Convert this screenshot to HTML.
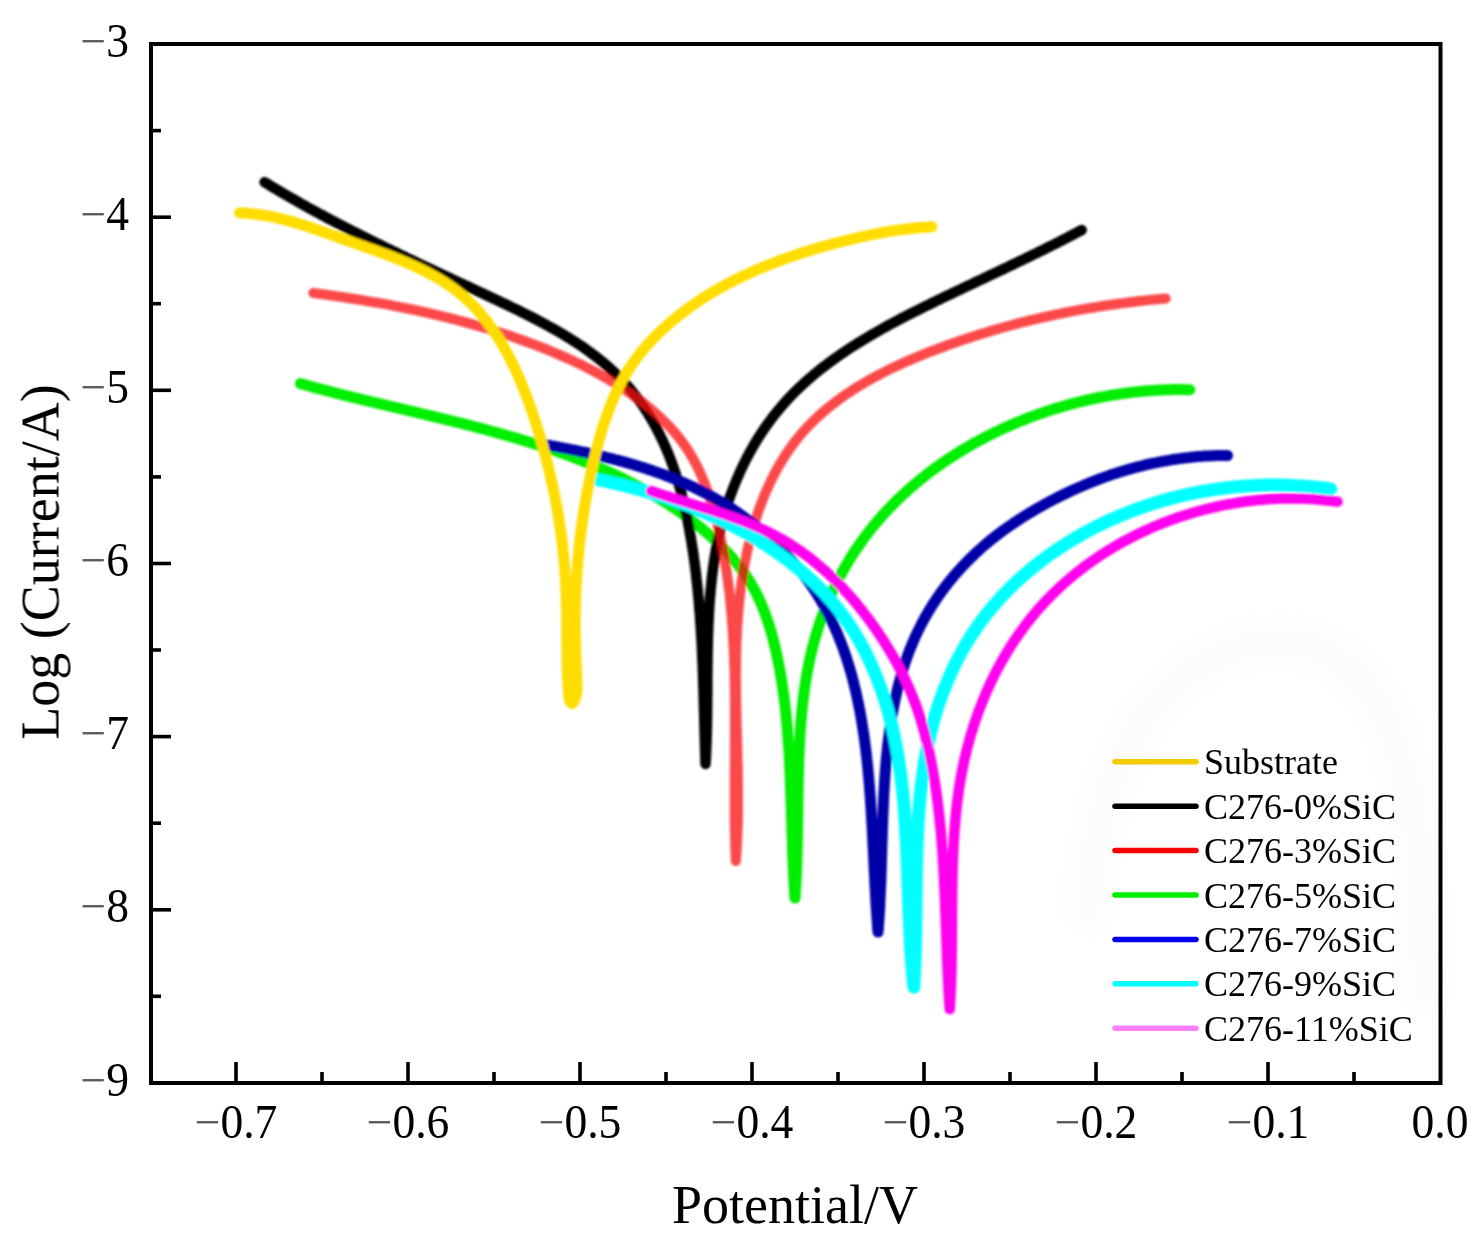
<!DOCTYPE html>
<html><head><meta charset="utf-8"><style>
html,body{margin:0;padding:0;background:#fff;}
svg{display:block;}
text{font-family:"Liberation Serif",serif;fill:#000;}
</style></head><body>
<svg width="1480" height="1249" viewBox="0 0 1480 1249">
<defs><filter id="bl" x="-5%" y="-5%" width="110%" height="110%"><feGaussianBlur stdDeviation="0.8"/></filter><filter id="bg" x="-20%" y="-20%" width="140%" height="140%"><feGaussianBlur stdDeviation="12"/></filter><filter id="bt" x="-5%" y="-5%" width="110%" height="110%"><feGaussianBlur stdDeviation="0.5"/></filter></defs>
<rect width="1480" height="1249" fill="#fff"/>
<path d="M1088,930 C1092,720 1190,640 1285,642 C1395,648 1428,800 1424,1010" fill="none" stroke="#fcfcfc" stroke-width="40" filter="url(#bg)"/>
<g fill="none" stroke-linecap="round" stroke-linejoin="round" filter="url(#bl)">
<path d="M300.4,383.6 L303.0,384.3 L305.6,385.0 L308.2,385.8 L310.8,386.5 L313.4,387.2 L316.0,387.9 L318.6,388.6 L321.2,389.3 L323.8,390.0 L326.4,390.7 L329.1,391.3 L331.7,392.0 L334.3,392.7 L337.0,393.4 L339.6,394.0 L342.3,394.7 L344.9,395.4 L347.6,396.0 L350.2,396.7 L352.9,397.3 L355.6,398.0 L358.2,398.6 L360.9,399.3 L363.6,399.9 L366.3,400.6 L368.9,401.2 L371.6,401.9 L374.3,402.5 L377.0,403.1 L379.7,403.8 L382.4,404.4 L385.1,405.0 L387.8,405.7 L390.5,406.3 L393.2,407.0 L395.9,407.6 L398.6,408.2 L401.3,408.9 L404.0,409.5 L406.7,410.1 L409.4,410.8 L412.1,411.4 L414.8,412.0 L417.5,412.7 L420.2,413.3 L422.9,414.0 L425.6,414.6 L428.4,415.3 L431.1,415.9 L433.8,416.6 L436.5,417.2 L439.2,417.9 L441.9,418.5 L444.6,419.2 L447.3,419.9 L450.1,420.5 L452.8,421.2 L455.5,421.9 L458.2,422.5 L460.9,423.2 L463.6,423.9 L466.3,424.6 L469.0,425.3 L471.7,426.0 L474.4,426.7 L477.1,427.4 L479.8,428.1 L482.5,428.8 L485.2,429.5 L487.9,430.2 L490.6,431.0 L493.3,431.7 L496.0,432.4 L498.7,433.2 L501.4,433.9 L504.1,434.7 L506.7,435.5 L509.4,436.2 L512.1,437.0 L514.8,437.8 L517.4,438.6 L520.1,439.4 L522.8,440.2 L525.4,441.0 L528.1,441.8 L530.7,442.6 L533.4,443.5 L536.0,444.3 L538.7,445.2 L541.3,446.0 L543.9,446.9 L546.6,447.8 L549.2,448.6 L551.8,449.5 L554.4,450.4 L557.1,451.3 L559.7,452.3 L562.3,453.2 L564.9,454.1 L567.5,455.1 L570.0,456.0 L572.6,457.0 L575.2,458.0 L577.8,459.0 L580.3,460.0 L582.9,461.0 L585.5,462.0 L588.0,463.0 L590.5,464.1 L593.1,465.1 L595.6,466.2 L598.1,467.3 L600.7,468.4 L603.2,469.5 L605.7,470.6 L608.2,471.7 L610.7,472.8 L613.2,474.0 L615.6,475.1 L618.1,476.3 L620.6,477.5 L623.0,478.7 L625.5,479.9 L627.9,481.1 L630.4,482.4 L632.8,483.6 L635.2,484.9 L637.6,486.2 L640.0,487.5 L642.4,488.8 L644.8,490.1 L647.2,491.4 L649.6,492.8 L651.9,494.2 L654.3,495.5 L656.6,496.9 L659.0,498.4 L661.3,499.8 L663.6,501.2 L665.9,502.7 L668.2,504.2 L670.5,505.7 L672.8,507.2 L675.1,508.7 L677.3,510.2 L679.6,511.8 L681.8,513.4 L684.0,515.0 L686.3,516.6 L688.5,518.2 L690.7,519.8 L692.9,521.5 L695.1,523.2 L697.2,524.9 L699.4,526.6 L701.5,528.3 L703.6,530.1 L705.7,531.9 L707.8,533.6 L709.9,535.5 L712.0,537.3 L714.0,539.1 L716.0,541.0 L718.0,542.9 L720.0,544.8 L721.9,546.7 L723.8,548.7 L725.7,550.7 L727.6,552.7 L729.4,554.7 L731.3,556.7 L733.0,558.8 L734.8,560.9 L736.5,563.0 L738.2,565.1 L739.9,567.2 L741.5,569.4 L743.1,571.6 L744.7,573.8 L746.2,576.1 L747.7,578.3 L749.2,580.6 L750.6,583.0 L752.0,585.3 L753.3,587.7 L754.6,590.0 L755.9,592.5 L757.1,594.9 L758.3,597.3 L759.4,599.8 L760.5,602.3 L761.6,604.8 L762.7,607.4 L763.7,609.9 L764.7,612.5 L765.6,615.1 L766.6,617.7 L767.5,620.3 L768.3,622.9 L769.2,625.5 L770.0,628.2 L770.8,630.8 L771.6,633.5 L772.3,636.2 L773.0,638.9 L773.7,641.6 L774.4,644.3 L775.0,647.0 L775.7,649.7 L776.3,652.4 L776.9,655.2 L777.4,657.9 L778.0,660.6 L778.5,663.4 L779.1,666.1 L779.6,668.9 L780.1,671.6 L780.5,674.3 L781.0,677.1 L781.5,679.8 L781.9,682.6 L782.3,685.3 L782.7,688.1 L783.1,690.8 L783.5,693.6 L783.9,696.3 L784.2,699.1 L784.6,701.8 L784.9,704.6 L785.2,707.4 L785.5,710.1 L785.8,712.9 L786.1,715.6 L786.4,718.4 L786.6,721.2 L786.9,723.9 L787.1,726.7 L787.4,729.4 L787.6,732.2 L787.8,735.0 L788.0,737.7 L788.2,740.5 L788.4,743.3 L788.6,746.0 L788.8,748.8 L789.0,751.6 L789.1,754.3 L789.3,757.1 L789.4,759.9 L789.6,762.7 L789.7,765.4 L789.8,768.2 L790.0,771.0 L790.1,773.7 L790.2,776.5 L790.3,779.3 L790.4,782.0 L790.5,784.8 L790.6,787.6 L790.7,790.4 L790.8,793.1 L790.9,795.9 L791.0,798.7 L791.1,801.4 L791.2,804.2 L791.3,807.0 L791.4,809.7 L791.4,812.5 L791.5,815.3 L791.6,818.0 L791.7,820.8 L791.8,823.6 L791.9,826.3 L791.9,829.1 L792.0,831.9 L792.1,834.6 L792.2,837.4 L792.3,840.2 L792.4,842.9 L792.5,845.7 L792.5,848.5 L792.6,851.2 L792.7,854.0 L792.8,856.7 L793.0,859.5 L793.1,862.3 L793.2,865.0 L793.3,867.8 L793.4,870.5 L793.6,873.3 L793.7,876.0 L793.8,878.8 L794.0,881.5 L794.1,884.3 L794.3,887.0 L794.5,889.8 L794.6,892.5 L794.8,895.3 L795.0,898.0 L795.2,895.6 L795.3,893.1 L795.5,890.7 L795.7,888.2 L795.8,885.8 L795.9,883.3 L796.1,880.8 L796.2,878.4 L796.3,875.9 L796.4,873.4 L796.5,871.0 L796.6,868.5 L796.7,866.0 L796.8,863.5 L796.9,861.0 L796.9,858.5 L797.0,856.0 L797.1,853.5 L797.1,851.0 L797.2,848.5 L797.3,846.0 L797.3,843.5 L797.4,841.0 L797.4,838.5 L797.4,836.0 L797.5,833.5 L797.5,831.0 L797.6,828.4 L797.6,825.9 L797.6,823.4 L797.7,820.9 L797.7,818.4 L797.7,815.8 L797.8,813.3 L797.8,810.8 L797.8,808.2 L797.9,805.7 L797.9,803.2 L797.9,800.7 L798.0,798.1 L798.0,795.6 L798.0,793.1 L798.1,790.5 L798.1,788.0 L798.2,785.5 L798.2,782.9 L798.3,780.4 L798.3,777.9 L798.4,775.3 L798.4,772.8 L798.5,770.3 L798.6,767.7 L798.7,765.2 L798.7,762.7 L798.8,760.2 L798.9,757.6 L799.0,755.1 L799.1,752.6 L799.2,750.1 L799.3,747.5 L799.5,745.0 L799.6,742.5 L799.7,740.0 L799.9,737.5 L800.0,734.9 L800.2,732.4 L800.3,729.9 L800.5,727.4 L800.7,724.9 L800.9,722.4 L801.1,719.9 L801.3,717.4 L801.5,714.9 L801.8,712.4 L802.0,709.9 L802.3,707.4 L802.5,704.9 L802.8,702.5 L803.1,700.0 L803.4,697.5 L803.7,695.0 L804.0,692.6 L804.4,690.1 L804.7,687.6 L805.1,685.2 L805.5,682.7 L805.8,680.3 L806.2,677.8 L806.7,675.4 L807.1,673.0 L807.5,670.5 L808.0,668.1 L808.5,665.7 L808.9,663.3 L809.5,660.8 L810.0,658.4 L810.5,656.0 L811.1,653.6 L811.6,651.2 L812.2,648.8 L812.8,646.4 L813.4,644.1 L814.1,641.7 L814.7,639.3 L815.4,637.0 L816.1,634.6 L816.8,632.3 L817.5,629.9 L818.3,627.6 L819.0,625.2 L819.8,622.9 L820.6,620.6 L821.4,618.3 L822.3,616.0 L823.1,613.7 L824.0,611.4 L824.9,609.1 L825.8,606.8 L826.7,604.5 L827.6,602.3 L828.6,600.0 L829.6,597.8 L830.6,595.5 L831.6,593.3 L832.6,591.1 L833.6,588.9 L834.7,586.7 L835.8,584.5 L836.9,582.3 L838.0,580.1 L839.1,577.9 L840.3,575.8 L841.4,573.6 L842.6,571.5 L843.8,569.3 L845.0,567.2 L846.2,565.1 L847.5,563.0 L848.7,560.9 L850.0,558.8 L851.3,556.7 L852.6,554.6 L854.0,552.6 L855.3,550.5 L856.7,548.5 L858.1,546.5 L859.5,544.5 L860.9,542.5 L862.3,540.5 L863.7,538.5 L865.2,536.5 L866.7,534.6 L868.2,532.6 L869.7,530.7 L871.2,528.8 L872.8,526.8 L874.3,524.9 L875.9,523.1 L877.5,521.2 L879.1,519.3 L880.7,517.5 L882.3,515.6 L884.0,513.8 L885.7,512.0 L887.3,510.2 L889.0,508.4 L890.8,506.6 L892.5,504.9 L894.2,503.1 L896.0,501.4 L897.7,499.6 L899.5,497.9 L901.3,496.2 L903.1,494.5 L905.0,492.9 L906.8,491.2 L908.6,489.5 L910.5,487.9 L912.4,486.3 L914.3,484.7 L916.2,483.0 L918.1,481.5 L920.0,479.9 L921.9,478.3 L923.9,476.8 L925.9,475.2 L927.8,473.7 L929.8,472.2 L931.8,470.7 L933.8,469.2 L935.8,467.7 L937.9,466.3 L939.9,464.8 L942.0,463.4 L944.0,461.9 L946.1,460.5 L948.2,459.1 L950.3,457.8 L952.4,456.4 L954.5,455.0 L956.6,453.7 L958.8,452.3 L960.9,451.0 L963.0,449.7 L965.2,448.4 L967.4,447.2 L969.6,445.9 L971.8,444.6 L973.9,443.4 L976.2,442.2 L978.4,441.0 L980.6,439.8 L982.8,438.6 L985.1,437.4 L987.3,436.2 L989.6,435.1 L991.8,434.0 L994.1,432.8 L996.4,431.7 L998.7,430.7 L1000.9,429.6 L1003.2,428.5 L1005.5,427.5 L1007.9,426.4 L1010.2,425.4 L1012.5,424.4 L1014.8,423.4 L1017.2,422.4 L1019.5,421.5 L1021.9,420.5 L1024.2,419.6 L1026.6,418.6 L1028.9,417.7 L1031.3,416.8 L1033.7,415.9 L1036.1,415.1 L1038.4,414.2 L1040.8,413.4 L1043.2,412.6 L1045.6,411.7 L1048.0,410.9 L1050.4,410.2 L1052.8,409.4 L1055.3,408.6 L1057.7,407.9 L1060.1,407.2 L1062.5,406.5 L1065.0,405.8 L1067.4,405.1 L1069.8,404.4 L1072.3,403.7 L1074.7,403.1 L1077.1,402.5 L1079.6,401.9 L1082.0,401.3 L1084.5,400.7 L1086.9,400.1 L1089.4,399.6 L1091.8,399.0 L1094.3,398.5 L1096.7,398.0 L1099.2,397.5 L1101.7,397.0 L1104.1,396.6 L1106.6,396.1 L1109.0,395.7 L1111.5,395.2 L1114.0,394.8 L1116.4,394.5 L1118.9,394.1 L1121.4,393.7 L1123.8,393.4 L1126.3,393.0 L1128.8,392.7 L1131.2,392.4 L1133.7,392.1 L1136.1,391.9 L1138.6,391.6 L1141.1,391.4 L1143.5,391.1 L1146.0,390.9 L1148.4,390.7 L1150.9,390.6 L1153.3,390.4 L1155.8,390.3 L1158.2,390.1 L1160.7,390.0 L1163.1,389.9 L1165.6,389.8 L1168.0,389.7 L1170.4,389.7 L1172.9,389.6 L1175.3,389.6 L1177.7,389.6 L1180.1,389.6 L1182.5,389.6 L1185.0,389.7 L1187.4,389.7 L1189.8,389.8" stroke="#00EE00" stroke-width="11"/>
<path d="M264.6,182.2 L266.9,183.6 L269.3,185.1 L271.7,186.5 L274.0,187.9 L276.4,189.3 L278.7,190.7 L281.1,192.1 L283.4,193.5 L285.8,194.8 L288.2,196.2 L290.5,197.6 L292.9,198.9 L295.3,200.3 L297.6,201.6 L300.0,203.0 L302.4,204.3 L304.7,205.6 L307.1,207.0 L309.5,208.3 L311.9,209.6 L314.2,210.9 L316.6,212.2 L319.0,213.5 L321.4,214.8 L323.8,216.0 L326.2,217.3 L328.5,218.6 L330.9,219.9 L333.3,221.1 L335.7,222.4 L338.1,223.6 L340.5,224.9 L342.9,226.1 L345.3,227.4 L347.7,228.6 L350.1,229.8 L352.5,231.1 L354.9,232.3 L357.3,233.5 L359.7,234.7 L362.1,235.9 L364.5,237.1 L366.9,238.3 L369.3,239.6 L371.8,240.8 L374.2,241.9 L376.6,243.1 L379.0,244.3 L381.4,245.5 L383.9,246.7 L386.3,247.9 L388.7,249.1 L391.1,250.2 L393.5,251.4 L396.0,252.6 L398.4,253.8 L400.8,254.9 L403.3,256.1 L405.7,257.3 L408.1,258.4 L410.6,259.6 L413.0,260.8 L415.5,261.9 L417.9,263.1 L420.3,264.2 L422.8,265.4 L425.2,266.5 L427.7,267.7 L430.1,268.8 L432.6,270.0 L435.0,271.2 L437.5,272.3 L439.9,273.5 L442.4,274.6 L444.8,275.8 L447.3,276.9 L449.8,278.1 L452.2,279.2 L454.7,280.4 L457.1,281.5 L459.6,282.7 L462.1,283.8 L464.5,285.0 L467.0,286.1 L469.5,287.3 L472.0,288.5 L474.4,289.6 L476.9,290.8 L479.4,291.9 L481.9,293.1 L484.3,294.3 L486.8,295.4 L489.3,296.6 L491.8,297.8 L494.3,298.9 L496.8,300.1 L499.2,301.3 L501.7,302.5 L504.2,303.6 L506.7,304.8 L509.2,306.0 L511.7,307.2 L514.1,308.4 L516.6,309.6 L519.1,310.8 L521.5,312.0 L524.0,313.3 L526.5,314.5 L528.9,315.7 L531.4,317.0 L533.8,318.2 L536.3,319.5 L538.7,320.8 L541.1,322.1 L543.5,323.4 L545.9,324.7 L548.3,326.0 L550.7,327.3 L553.1,328.6 L555.5,330.0 L557.8,331.3 L560.2,332.7 L562.5,334.1 L564.9,335.5 L567.2,336.9 L569.5,338.3 L571.8,339.8 L574.0,341.2 L576.3,342.7 L578.5,344.2 L580.8,345.7 L583.0,347.2 L585.2,348.7 L587.4,350.3 L589.6,351.9 L591.7,353.5 L593.8,355.1 L596.0,356.7 L598.1,358.3 L600.2,360.0 L602.2,361.7 L604.3,363.4 L606.3,365.1 L608.3,366.8 L610.3,368.6 L612.2,370.4 L614.2,372.2 L616.1,374.0 L618.0,375.9 L619.9,377.8 L621.7,379.7 L623.5,381.6 L625.3,383.5 L627.1,385.5 L628.9,387.5 L630.6,389.5 L632.3,391.6 L633.9,393.7 L635.6,395.8 L637.2,397.9 L638.8,400.0 L640.4,402.2 L641.9,404.4 L643.4,406.6 L644.9,408.9 L646.4,411.1 L647.9,413.4 L649.3,415.7 L650.7,418.0 L652.0,420.3 L653.4,422.7 L654.7,425.1 L656.0,427.5 L657.3,429.9 L658.5,432.3 L659.7,434.7 L660.9,437.2 L662.1,439.6 L663.3,442.1 L664.4,444.6 L665.5,447.1 L666.6,449.6 L667.6,452.2 L668.7,454.7 L669.7,457.3 L670.7,459.8 L671.6,462.4 L672.6,465.0 L673.5,467.6 L674.4,470.2 L675.3,472.8 L676.1,475.4 L676.9,478.0 L677.7,480.6 L678.5,483.3 L679.3,485.9 L680.0,488.5 L680.8,491.2 L681.5,493.8 L682.2,496.5 L682.8,499.2 L683.5,501.8 L684.1,504.5 L684.7,507.2 L685.3,509.8 L685.9,512.5 L686.5,515.2 L687.0,517.9 L687.6,520.6 L688.1,523.2 L688.6,525.9 L689.1,528.6 L689.6,531.3 L690.1,534.0 L690.6,536.7 L691.0,539.4 L691.5,542.1 L691.9,544.8 L692.3,547.5 L692.8,550.1 L693.2,552.8 L693.6,555.5 L693.9,558.2 L694.3,560.9 L694.7,563.6 L695.0,566.3 L695.4,569.0 L695.7,571.7 L696.0,574.4 L696.3,577.1 L696.6,579.8 L696.9,582.5 L697.2,585.2 L697.5,587.9 L697.8,590.6 L698.0,593.3 L698.3,596.0 L698.5,598.7 L698.8,601.4 L699.0,604.1 L699.2,606.8 L699.4,609.5 L699.7,612.2 L699.9,614.9 L700.1,617.6 L700.2,620.3 L700.4,623.0 L700.6,625.7 L700.8,628.4 L700.9,631.1 L701.1,633.8 L701.3,636.5 L701.4,639.2 L701.6,641.9 L701.7,644.6 L701.8,647.4 L702.0,650.1 L702.1,652.8 L702.2,655.5 L702.3,658.2 L702.4,660.9 L702.6,663.6 L702.7,666.3 L702.8,669.0 L702.9,671.7 L703.0,674.4 L703.1,677.1 L703.1,679.9 L703.2,682.6 L703.3,685.3 L703.4,688.0 L703.5,690.7 L703.6,693.4 L703.6,696.1 L703.7,698.8 L703.8,701.5 L703.9,704.3 L703.9,707.0 L704.0,709.7 L704.1,712.4 L704.2,715.1 L704.2,717.8 L704.3,720.5 L704.4,723.3 L704.4,726.0 L704.5,728.7 L704.6,731.4 L704.6,734.1 L704.7,736.8 L704.8,739.5 L704.9,742.3 L704.9,745.0 L705.0,747.7 L705.1,750.4 L705.2,753.1 L705.2,755.8 L705.3,758.6 L705.4,761.3 L705.5,764.0 L705.6,761.6 L705.8,759.2 L705.9,756.9 L706.0,754.5 L706.1,752.1 L706.2,749.7 L706.3,747.3 L706.4,744.9 L706.5,742.5 L706.6,740.1 L706.6,737.7 L706.7,735.3 L706.8,732.9 L706.8,730.5 L706.9,728.0 L706.9,725.6 L707.0,723.2 L707.0,720.8 L707.0,718.4 L707.1,715.9 L707.1,713.5 L707.1,711.1 L707.1,708.6 L707.2,706.2 L707.2,703.8 L707.2,701.3 L707.2,698.9 L707.2,696.4 L707.3,694.0 L707.3,691.6 L707.3,689.1 L707.3,686.7 L707.3,684.2 L707.3,681.8 L707.3,679.3 L707.3,676.9 L707.4,674.4 L707.4,672.0 L707.4,669.5 L707.4,667.1 L707.4,664.6 L707.5,662.2 L707.5,659.7 L707.5,657.3 L707.6,654.8 L707.6,652.3 L707.7,649.9 L707.7,647.4 L707.8,645.0 L707.8,642.5 L707.9,640.1 L707.9,637.6 L708.0,635.2 L708.1,632.7 L708.2,630.3 L708.3,627.8 L708.3,625.4 L708.5,622.9 L708.6,620.5 L708.7,618.0 L708.8,615.6 L708.9,613.1 L709.1,610.7 L709.2,608.2 L709.4,605.8 L709.5,603.4 L709.7,600.9 L709.9,598.5 L710.1,596.0 L710.3,593.6 L710.5,591.2 L710.7,588.8 L711.0,586.3 L711.2,583.9 L711.5,581.5 L711.7,579.1 L712.0,576.6 L712.3,574.2 L712.6,571.8 L712.9,569.4 L713.2,567.0 L713.6,564.6 L713.9,562.2 L714.3,559.8 L714.7,557.4 L715.1,555.0 L715.5,552.6 L715.9,550.2 L716.4,547.8 L716.8,545.5 L717.3,543.1 L717.8,540.7 L718.3,538.3 L718.8,536.0 L719.3,533.6 L719.9,531.2 L720.4,528.9 L721.0,526.5 L721.6,524.2 L722.2,521.8 L722.9,519.5 L723.5,517.2 L724.2,514.9 L724.9,512.5 L725.6,510.2 L726.3,507.9 L727.0,505.6 L727.8,503.3 L728.5,501.0 L729.3,498.7 L730.1,496.4 L730.9,494.2 L731.8,491.9 L732.6,489.7 L733.5,487.4 L734.4,485.2 L735.3,482.9 L736.2,480.7 L737.1,478.5 L738.1,476.3 L739.1,474.1 L740.0,471.9 L741.0,469.7 L742.1,467.5 L743.1,465.3 L744.1,463.2 L745.2,461.0 L746.3,458.9 L747.4,456.8 L748.5,454.7 L749.7,452.6 L750.8,450.5 L752.0,448.4 L753.2,446.3 L754.4,444.2 L755.6,442.2 L756.8,440.2 L758.1,438.1 L759.4,436.1 L760.7,434.1 L762.0,432.1 L763.3,430.1 L764.6,428.2 L766.0,426.2 L767.4,424.3 L768.8,422.4 L770.2,420.5 L771.6,418.6 L773.0,416.7 L774.5,414.8 L776.0,412.9 L777.5,411.1 L779.0,409.3 L780.5,407.5 L782.1,405.7 L783.6,403.9 L785.2,402.1 L786.8,400.4 L788.4,398.6 L790.0,396.9 L791.7,395.2 L793.3,393.5 L795.0,391.8 L796.7,390.1 L798.4,388.5 L800.1,386.9 L801.9,385.2 L803.6,383.6 L805.4,382.0 L807.2,380.4 L809.0,378.9 L810.8,377.3 L812.6,375.8 L814.4,374.2 L816.3,372.7 L818.1,371.2 L820.0,369.7 L821.9,368.2 L823.8,366.7 L825.7,365.3 L827.6,363.8 L829.6,362.4 L831.5,360.9 L833.5,359.5 L835.4,358.1 L837.4,356.7 L839.4,355.3 L841.4,353.9 L843.4,352.6 L845.4,351.2 L847.4,349.9 L849.5,348.5 L851.5,347.2 L853.6,345.9 L855.6,344.6 L857.7,343.3 L859.8,342.0 L861.9,340.7 L864.0,339.4 L866.1,338.2 L868.2,336.9 L870.3,335.6 L872.4,334.4 L874.5,333.2 L876.7,331.9 L878.8,330.7 L881.0,329.5 L883.1,328.3 L885.3,327.1 L887.4,325.9 L889.6,324.7 L891.8,323.5 L894.0,322.4 L896.1,321.2 L898.3,320.1 L900.5,318.9 L902.7,317.7 L904.9,316.6 L907.1,315.5 L909.3,314.3 L911.5,313.2 L913.7,312.1 L915.9,311.0 L918.2,309.9 L920.4,308.8 L922.6,307.6 L924.8,306.5 L927.0,305.5 L929.3,304.4 L931.5,303.3 L933.7,302.2 L935.9,301.1 L938.2,300.0 L940.4,299.0 L942.6,297.9 L944.8,296.8 L947.0,295.8 L949.3,294.7 L951.5,293.6 L953.7,292.6 L955.9,291.5 L958.1,290.5 L960.4,289.4 L962.6,288.4 L964.8,287.3 L967.0,286.3 L969.2,285.2 L971.4,284.2 L973.6,283.1 L975.8,282.1 L978.0,281.0 L980.3,280.0 L982.5,279.0 L984.7,277.9 L986.9,276.9 L989.1,275.8 L991.2,274.8 L993.4,273.8 L995.6,272.7 L997.8,271.7 L1000.0,270.6 L1002.2,269.6 L1004.4,268.6 L1006.6,267.5 L1008.8,266.5 L1010.9,265.4 L1013.1,264.4 L1015.3,263.4 L1017.5,262.3 L1019.6,261.3 L1021.8,260.2 L1024.0,259.2 L1026.1,258.1 L1028.3,257.1 L1030.5,256.0 L1032.6,255.0 L1034.8,253.9 L1036.9,252.9 L1039.1,251.8 L1041.3,250.7 L1043.4,249.7 L1045.6,248.6 L1047.7,247.5 L1049.8,246.5 L1052.0,245.4 L1054.1,244.3 L1056.3,243.2 L1058.4,242.2 L1060.5,241.1 L1062.6,240.0 L1064.8,238.9 L1066.9,237.8 L1069.0,236.7 L1071.1,235.6 L1073.2,234.5 L1075.4,233.4 L1077.5,232.2 L1079.6,231.1 L1081.7,230.0" stroke="#000000" stroke-width="10.5"/>
<path d="M313.3,293.0 L316.1,293.4 L318.9,293.8 L321.7,294.1 L324.5,294.5 L327.3,294.9 L330.1,295.3 L332.9,295.7 L335.7,296.1 L338.4,296.5 L341.2,296.9 L344.0,297.3 L346.8,297.8 L349.6,298.2 L352.3,298.6 L355.1,299.0 L357.9,299.5 L360.6,299.9 L363.4,300.4 L366.1,300.8 L368.9,301.3 L371.7,301.8 L374.4,302.3 L377.2,302.7 L379.9,303.2 L382.6,303.7 L385.4,304.2 L388.1,304.7 L390.9,305.2 L393.6,305.8 L396.3,306.3 L399.1,306.8 L401.8,307.4 L404.5,307.9 L407.2,308.5 L410.0,309.0 L412.7,309.6 L415.4,310.2 L418.1,310.7 L420.8,311.3 L423.5,311.9 L426.2,312.5 L428.9,313.2 L431.6,313.8 L434.3,314.4 L437.0,315.0 L439.7,315.7 L442.4,316.3 L445.1,317.0 L447.8,317.7 L450.5,318.4 L453.2,319.0 L455.9,319.7 L458.6,320.5 L461.2,321.2 L463.9,321.9 L466.6,322.6 L469.3,323.4 L471.9,324.1 L474.6,324.9 L477.3,325.6 L480.0,326.4 L482.6,327.2 L485.3,328.0 L488.0,328.8 L490.6,329.6 L493.3,330.5 L495.9,331.3 L498.6,332.1 L501.2,333.0 L503.9,333.9 L506.5,334.7 L509.2,335.6 L511.8,336.5 L514.5,337.4 L517.1,338.4 L519.8,339.3 L522.4,340.2 L525.1,341.2 L527.7,342.2 L530.3,343.1 L533.0,344.1 L535.6,345.1 L538.2,346.1 L540.9,347.2 L543.5,348.2 L546.1,349.2 L548.7,350.3 L551.3,351.4 L553.9,352.5 L556.5,353.6 L559.1,354.7 L561.7,355.8 L564.3,356.9 L566.9,358.1 L569.5,359.3 L572.0,360.4 L574.6,361.6 L577.2,362.9 L579.7,364.1 L582.2,365.3 L584.8,366.6 L587.3,367.9 L589.8,369.1 L592.3,370.4 L594.8,371.8 L597.3,373.1 L599.7,374.5 L602.2,375.8 L604.6,377.2 L607.1,378.6 L609.5,380.1 L611.9,381.5 L614.3,383.0 L616.7,384.4 L619.1,385.9 L621.4,387.4 L623.8,389.0 L626.1,390.5 L628.4,392.1 L630.7,393.7 L633.0,395.3 L635.2,396.9 L637.5,398.6 L639.7,400.2 L641.9,401.9 L644.1,403.6 L646.3,405.4 L648.5,407.1 L650.6,408.9 L652.7,410.7 L654.8,412.5 L656.9,414.4 L658.9,416.2 L660.9,418.1 L662.9,420.0 L664.9,422.0 L666.8,423.9 L668.7,425.9 L670.6,427.9 L672.4,430.0 L674.3,432.0 L676.0,434.1 L677.8,436.2 L679.5,438.4 L681.2,440.6 L682.8,442.8 L684.4,445.0 L686.0,447.2 L687.5,449.5 L689.0,451.8 L690.4,454.2 L691.8,456.6 L693.2,459.0 L694.5,461.4 L695.8,463.8 L697.0,466.3 L698.3,468.8 L699.5,471.3 L700.6,473.8 L701.7,476.4 L702.8,478.9 L703.9,481.5 L704.9,484.1 L705.9,486.7 L706.9,489.4 L707.8,492.0 L708.7,494.7 L709.6,497.3 L710.5,500.0 L711.3,502.7 L712.2,505.4 L713.0,508.0 L713.8,510.7 L714.5,513.5 L715.3,516.2 L716.0,518.9 L716.7,521.6 L717.4,524.3 L718.0,527.0 L718.7,529.8 L719.3,532.5 L719.9,535.2 L720.5,537.9 L721.1,540.7 L721.7,543.4 L722.2,546.2 L722.8,548.9 L723.3,551.7 L723.8,554.4 L724.3,557.2 L724.7,559.9 L725.2,562.7 L725.6,565.4 L726.1,568.2 L726.5,570.9 L726.9,573.7 L727.3,576.4 L727.7,579.2 L728.0,582.0 L728.4,584.7 L728.7,587.5 L729.1,590.3 L729.4,593.0 L729.7,595.8 L730.0,598.6 L730.3,601.3 L730.6,604.1 L730.8,606.9 L731.1,609.6 L731.3,612.4 L731.6,615.2 L731.8,618.0 L732.0,620.7 L732.2,623.5 L732.4,626.3 L732.6,629.1 L732.8,631.8 L733.0,634.6 L733.1,637.4 L733.3,640.2 L733.4,643.0 L733.6,645.8 L733.7,648.5 L733.8,651.3 L733.9,654.1 L734.0,656.9 L734.1,659.7 L734.2,662.5 L734.3,665.3 L734.4,668.0 L734.5,670.8 L734.6,673.6 L734.6,676.4 L734.7,679.2 L734.7,682.0 L734.8,684.8 L734.8,687.6 L734.9,690.4 L734.9,693.2 L734.9,696.0 L734.9,698.8 L735.0,701.5 L735.0,704.3 L735.0,707.1 L735.0,709.9 L735.0,712.7 L735.0,715.5 L735.0,718.3 L735.0,721.1 L735.0,723.9 L735.0,726.7 L735.0,729.5 L735.0,732.3 L735.0,735.1 L735.0,737.9 L734.9,740.7 L734.9,743.5 L734.9,746.3 L734.9,749.1 L734.9,751.9 L734.9,754.7 L734.8,757.5 L734.8,760.3 L734.8,763.1 L734.8,765.9 L734.8,768.7 L734.7,771.5 L734.7,774.3 L734.7,777.1 L734.7,779.9 L734.7,782.7 L734.7,785.5 L734.7,788.3 L734.7,791.1 L734.7,793.9 L734.7,796.7 L734.7,799.5 L734.7,802.3 L734.7,805.1 L734.7,807.9 L734.7,810.7 L734.7,813.5 L734.7,816.3 L734.8,819.1 L734.8,821.9 L734.8,824.7 L734.9,827.5 L734.9,830.3 L735.0,833.1 L735.0,835.9 L735.1,838.7 L735.2,841.4 L735.2,844.2 L735.3,847.0 L735.4,849.8 L735.5,852.6 L735.6,855.4 L735.7,858.2 L735.8,861.0 L736.0,858.2 L736.2,855.4 L736.4,852.7 L736.6,849.9 L736.8,847.1 L736.9,844.3 L737.1,841.5 L737.2,838.7 L737.3,835.9 L737.4,833.2 L737.5,830.4 L737.6,827.6 L737.7,824.8 L737.8,822.0 L737.8,819.2 L737.9,816.4 L737.9,813.6 L738.0,810.8 L738.0,808.0 L738.0,805.2 L738.0,802.4 L738.0,799.6 L738.0,796.8 L738.0,793.9 L738.0,791.1 L738.0,788.3 L738.0,785.5 L737.9,782.7 L737.9,779.9 L737.9,777.1 L737.8,774.3 L737.8,771.5 L737.7,768.6 L737.7,765.8 L737.6,763.0 L737.5,760.2 L737.5,757.4 L737.4,754.6 L737.3,751.8 L737.3,748.9 L737.2,746.1 L737.1,743.3 L737.1,740.5 L737.0,737.7 L736.9,734.8 L736.8,732.0 L736.8,729.2 L736.7,726.4 L736.6,723.6 L736.6,720.7 L736.5,717.9 L736.4,715.1 L736.4,712.3 L736.3,709.5 L736.3,706.7 L736.2,703.8 L736.2,701.0 L736.1,698.2 L736.1,695.4 L736.0,692.6 L736.0,689.7 L736.0,686.9 L736.0,684.1 L736.0,681.3 L735.9,678.5 L735.9,675.7 L735.9,672.9 L736.0,670.0 L736.0,667.2 L736.0,664.4 L736.0,661.6 L736.1,658.8 L736.1,656.0 L736.2,653.2 L736.3,650.4 L736.3,647.6 L736.4,644.8 L736.5,642.0 L736.6,639.2 L736.8,636.4 L736.9,633.6 L737.0,630.8 L737.2,628.0 L737.3,625.2 L737.5,622.4 L737.7,619.6 L737.9,616.8 L738.1,614.0 L738.4,611.2 L738.6,608.4 L738.9,605.6 L739.1,602.8 L739.4,600.0 L739.7,597.2 L740.0,594.5 L740.4,591.7 L740.7,588.9 L741.1,586.1 L741.5,583.3 L741.9,580.6 L742.3,577.8 L742.7,575.0 L743.1,572.3 L743.6,569.5 L744.1,566.7 L744.6,564.0 L745.1,561.2 L745.7,558.5 L746.2,555.7 L746.8,552.9 L747.4,550.2 L748.0,547.4 L748.7,544.7 L749.3,542.0 L750.0,539.2 L750.7,536.5 L751.4,533.8 L752.2,531.1 L753.0,528.4 L753.8,525.7 L754.6,523.0 L755.4,520.3 L756.3,517.6 L757.1,514.9 L758.0,512.3 L759.0,509.6 L759.9,507.0 L760.9,504.4 L761.9,501.8 L762.9,499.2 L763.9,496.6 L765.0,494.0 L766.1,491.4 L767.2,488.9 L768.3,486.4 L769.5,483.8 L770.7,481.3 L771.9,478.9 L773.2,476.4 L774.4,473.9 L775.7,471.5 L777.0,469.1 L778.4,466.7 L779.8,464.3 L781.2,461.9 L782.6,459.6 L784.1,457.3 L785.5,454.9 L787.1,452.7 L788.6,450.4 L790.2,448.2 L791.8,445.9 L793.4,443.7 L795.0,441.6 L796.7,439.4 L798.4,437.3 L800.2,435.2 L801.9,433.1 L803.7,431.1 L805.6,429.1 L807.4,427.1 L809.3,425.1 L811.2,423.1 L813.2,421.2 L815.1,419.3 L817.1,417.4 L819.2,415.6 L821.2,413.7 L823.3,411.9 L825.4,410.1 L827.5,408.4 L829.6,406.6 L831.8,404.9 L834.0,403.2 L836.2,401.5 L838.4,399.9 L840.7,398.2 L842.9,396.6 L845.2,395.0 L847.5,393.4 L849.9,391.9 L852.2,390.3 L854.6,388.8 L857.0,387.3 L859.4,385.8 L861.8,384.4 L864.2,382.9 L866.7,381.5 L869.1,380.1 L871.6,378.7 L874.1,377.4 L876.6,376.0 L879.1,374.7 L881.6,373.4 L884.2,372.1 L886.7,370.8 L889.3,369.5 L891.9,368.3 L894.5,367.0 L897.1,365.8 L899.7,364.6 L902.3,363.4 L904.9,362.2 L907.5,361.1 L910.2,359.9 L912.8,358.8 L915.5,357.7 L918.1,356.6 L920.8,355.5 L923.4,354.4 L926.1,353.3 L928.8,352.3 L931.4,351.2 L934.1,350.2 L936.8,349.2 L939.5,348.2 L942.2,347.2 L944.9,346.2 L947.5,345.2 L950.2,344.3 L952.9,343.3 L955.6,342.4 L958.3,341.5 L961.0,340.5 L963.6,339.6 L966.3,338.7 L969.0,337.9 L971.7,337.0 L974.4,336.1 L977.1,335.3 L979.7,334.4 L982.4,333.6 L985.1,332.8 L987.8,331.9 L990.5,331.1 L993.2,330.3 L995.8,329.5 L998.5,328.8 L1001.2,328.0 L1003.9,327.3 L1006.6,326.5 L1009.3,325.8 L1012.0,325.0 L1014.6,324.3 L1017.3,323.6 L1020.0,322.9 L1022.7,322.2 L1025.4,321.6 L1028.1,320.9 L1030.8,320.2 L1033.5,319.6 L1036.2,318.9 L1038.9,318.3 L1041.6,317.7 L1044.3,317.1 L1047.0,316.5 L1049.7,315.9 L1052.4,315.3 L1055.1,314.7 L1057.8,314.1 L1060.5,313.6 L1063.3,313.0 L1066.0,312.5 L1068.7,311.9 L1071.4,311.4 L1074.1,310.9 L1076.9,310.4 L1079.6,309.9 L1082.3,309.4 L1085.1,308.9 L1087.8,308.4 L1090.5,308.0 L1093.3,307.5 L1096.0,307.1 L1098.8,306.6 L1101.5,306.2 L1104.3,305.8 L1107.0,305.4 L1109.8,305.0 L1112.5,304.6 L1115.3,304.2 L1118.1,303.8 L1120.8,303.4 L1123.6,303.1 L1126.4,302.7 L1129.2,302.3 L1132.0,302.0 L1134.8,301.7 L1137.5,301.3 L1140.3,301.0 L1143.1,300.7 L1145.9,300.4 L1148.8,300.1 L1151.6,299.8 L1154.4,299.5 L1157.2,299.3 L1160.0,299.0 L1162.9,298.7 L1165.7,298.5" stroke="rgba(250,10,20,0.76)" stroke-width="10"/>
<path d="M543.0,444.3 L545.1,444.7 L547.3,445.1 L549.4,445.5 L551.6,445.9 L553.7,446.2 L555.9,446.6 L558.0,447.0 L560.2,447.5 L562.4,447.9 L564.5,448.3 L566.7,448.7 L568.9,449.1 L571.0,449.6 L573.2,450.0 L575.4,450.4 L577.6,450.9 L579.7,451.3 L581.9,451.8 L584.1,452.2 L586.3,452.7 L588.5,453.2 L590.6,453.7 L592.8,454.2 L595.0,454.7 L597.2,455.2 L599.4,455.7 L601.6,456.2 L603.8,456.7 L605.9,457.3 L608.1,457.8 L610.3,458.3 L612.5,458.9 L614.7,459.5 L616.9,460.0 L619.1,460.6 L621.2,461.2 L623.4,461.8 L625.6,462.4 L627.8,463.0 L630.0,463.6 L632.1,464.3 L634.3,464.9 L636.5,465.6 L638.6,466.2 L640.8,466.9 L643.0,467.6 L645.1,468.3 L647.3,469.0 L649.4,469.7 L651.6,470.4 L653.7,471.2 L655.9,471.9 L658.0,472.7 L660.1,473.4 L662.3,474.2 L664.4,475.0 L666.5,475.8 L668.6,476.6 L670.7,477.4 L672.8,478.3 L675.0,479.1 L677.1,480.0 L679.1,480.8 L681.2,481.7 L683.3,482.6 L685.4,483.5 L687.5,484.5 L689.5,485.4 L691.6,486.4 L693.6,487.3 L695.7,488.3 L697.7,489.3 L699.8,490.3 L701.8,491.3 L703.8,492.3 L705.8,493.4 L707.8,494.5 L709.8,495.5 L711.8,496.6 L713.8,497.7 L715.8,498.9 L717.7,500.0 L719.7,501.1 L721.6,502.3 L723.6,503.5 L725.5,504.7 L727.4,505.9 L729.3,507.1 L731.3,508.3 L733.1,509.6 L735.0,510.9 L736.9,512.1 L738.8,513.4 L740.6,514.7 L742.5,516.0 L744.3,517.4 L746.1,518.7 L748.0,520.1 L749.8,521.4 L751.6,522.8 L753.3,524.2 L755.1,525.6 L756.9,527.1 L758.6,528.5 L760.4,529.9 L762.1,531.4 L763.8,532.9 L765.5,534.3 L767.2,535.8 L768.9,537.3 L770.5,538.8 L772.2,540.4 L773.8,541.9 L775.5,543.5 L777.1,545.0 L778.7,546.6 L780.3,548.2 L781.8,549.8 L783.4,551.4 L784.9,553.0 L786.5,554.6 L788.0,556.3 L789.5,557.9 L791.0,559.6 L792.5,561.3 L793.9,562.9 L795.4,564.6 L796.8,566.3 L798.2,568.0 L799.6,569.8 L801.0,571.5 L802.3,573.2 L803.7,575.0 L805.0,576.8 L806.3,578.5 L807.6,580.3 L808.9,582.1 L810.2,583.9 L811.4,585.7 L812.7,587.5 L813.9,589.3 L815.1,591.2 L816.3,593.0 L817.4,594.9 L818.6,596.7 L819.7,598.6 L820.8,600.5 L821.9,602.3 L823.0,604.2 L824.1,606.1 L825.1,608.0 L826.2,610.0 L827.2,611.9 L828.2,613.8 L829.2,615.7 L830.1,617.7 L831.1,619.6 L832.0,621.6 L833.0,623.6 L833.9,625.6 L834.8,627.5 L835.6,629.5 L836.5,631.5 L837.4,633.5 L838.2,635.5 L839.0,637.6 L839.8,639.6 L840.6,641.6 L841.4,643.6 L842.2,645.7 L842.9,647.7 L843.7,649.8 L844.4,651.9 L845.1,653.9 L845.8,656.0 L846.5,658.1 L847.2,660.2 L847.8,662.3 L848.5,664.3 L849.1,666.5 L849.7,668.6 L850.4,670.7 L851.0,672.8 L851.6,674.9 L852.1,677.0 L852.7,679.2 L853.3,681.3 L853.8,683.5 L854.3,685.6 L854.9,687.8 L855.4,689.9 L855.9,692.1 L856.4,694.2 L856.9,696.4 L857.3,698.6 L857.8,700.8 L858.3,703.0 L858.7,705.1 L859.1,707.3 L859.6,709.5 L860.0,711.7 L860.4,713.9 L860.8,716.1 L861.2,718.4 L861.6,720.6 L861.9,722.8 L862.3,725.0 L862.6,727.2 L863.0,729.5 L863.3,731.7 L863.7,733.9 L864.0,736.1 L864.3,738.4 L864.6,740.6 L864.9,742.9 L865.2,745.1 L865.5,747.4 L865.8,749.6 L866.0,751.9 L866.3,754.1 L866.6,756.4 L866.8,758.6 L867.1,760.9 L867.3,763.2 L867.5,765.4 L867.8,767.7 L868.0,770.0 L868.2,772.2 L868.4,774.5 L868.6,776.8 L868.8,779.0 L869.0,781.3 L869.2,783.6 L869.4,785.9 L869.6,788.2 L869.7,790.4 L869.9,792.7 L870.1,795.0 L870.3,797.3 L870.4,799.6 L870.6,801.8 L870.7,804.1 L870.9,806.4 L871.0,808.7 L871.2,811.0 L871.3,813.2 L871.4,815.5 L871.6,817.8 L871.7,820.1 L871.8,822.4 L872.0,824.7 L872.1,826.9 L872.2,829.2 L872.3,831.5 L872.5,833.8 L872.6,836.0 L872.7,838.3 L872.8,840.6 L872.9,842.9 L873.0,845.1 L873.1,847.4 L873.3,849.7 L873.4,852.0 L873.5,854.2 L873.6,856.5 L873.7,858.8 L873.8,861.0 L873.9,863.3 L874.0,865.5 L874.1,867.8 L874.2,870.1 L874.3,872.3 L874.5,874.6 L874.6,876.8 L874.7,879.0 L874.8,881.3 L874.9,883.5 L875.0,885.8 L875.1,888.0 L875.3,890.2 L875.4,892.5 L875.5,894.7 L875.6,896.9 L875.7,899.1 L875.9,901.4 L876.0,903.6 L876.1,905.8 L876.3,908.0 L876.4,910.2 L876.6,912.4 L876.7,914.6 L876.9,916.8 L877.0,919.0 L877.2,921.1 L877.3,923.3 L877.5,925.5 L877.6,927.7 L877.8,929.8 L878.0,932.0 L878.2,929.8 L878.4,927.6 L878.5,925.3 L878.7,923.1 L878.9,920.9 L879.0,918.7 L879.2,916.4 L879.3,914.2 L879.4,911.9 L879.6,909.7 L879.7,907.4 L879.8,905.2 L879.9,902.9 L880.0,900.7 L880.1,898.4 L880.2,896.1 L880.3,893.9 L880.4,891.6 L880.5,889.3 L880.6,887.1 L880.7,884.8 L880.8,882.5 L880.9,880.2 L881.0,877.9 L881.0,875.7 L881.1,873.4 L881.2,871.1 L881.3,868.8 L881.3,866.5 L881.4,864.2 L881.5,861.9 L881.5,859.6 L881.6,857.3 L881.7,855.0 L881.7,852.7 L881.8,850.4 L881.9,848.1 L881.9,845.8 L882.0,843.5 L882.1,841.2 L882.1,838.9 L882.2,836.6 L882.3,834.2 L882.4,831.9 L882.4,829.6 L882.5,827.3 L882.6,825.0 L882.7,822.7 L882.7,820.4 L882.8,818.1 L882.9,815.8 L883.0,813.4 L883.1,811.1 L883.2,808.8 L883.3,806.5 L883.4,804.2 L883.5,801.9 L883.6,799.6 L883.7,797.3 L883.8,795.0 L883.9,792.7 L884.1,790.4 L884.2,788.1 L884.3,785.8 L884.5,783.5 L884.6,781.2 L884.8,778.9 L884.9,776.6 L885.1,774.3 L885.3,772.0 L885.4,769.7 L885.6,767.4 L885.8,765.1 L886.0,762.8 L886.2,760.5 L886.4,758.3 L886.6,756.0 L886.9,753.7 L887.1,751.4 L887.3,749.1 L887.6,746.9 L887.8,744.6 L888.1,742.3 L888.4,740.1 L888.7,737.8 L889.0,735.6 L889.3,733.3 L889.6,731.1 L889.9,728.8 L890.2,726.6 L890.6,724.3 L890.9,722.1 L891.3,719.9 L891.7,717.6 L892.0,715.4 L892.4,713.2 L892.8,711.0 L893.2,708.8 L893.7,706.5 L894.1,704.3 L894.6,702.1 L895.0,699.9 L895.5,697.7 L896.0,695.6 L896.5,693.4 L897.0,691.2 L897.5,689.0 L898.1,686.9 L898.6,684.7 L899.2,682.5 L899.8,680.4 L900.4,678.2 L901.0,676.1 L901.6,673.9 L902.2,671.8 L902.9,669.7 L903.5,667.6 L904.2,665.4 L904.9,663.3 L905.6,661.2 L906.4,659.1 L907.1,657.0 L907.9,654.9 L908.6,652.9 L909.4,650.8 L910.2,648.7 L911.1,646.6 L911.9,644.6 L912.8,642.5 L913.6,640.5 L914.5,638.5 L915.4,636.4 L916.4,634.4 L917.3,632.4 L918.3,630.4 L919.3,628.4 L920.3,626.4 L921.3,624.4 L922.3,622.4 L923.4,620.4 L924.5,618.5 L925.5,616.5 L926.7,614.6 L927.8,612.6 L929.0,610.7 L930.1,608.8 L931.3,606.9 L932.5,604.9 L933.7,603.0 L935.0,601.2 L936.2,599.3 L937.5,597.4 L938.8,595.5 L940.1,593.7 L941.5,591.8 L942.8,590.0 L944.2,588.2 L945.5,586.4 L946.9,584.6 L948.3,582.8 L949.8,581.0 L951.2,579.2 L952.7,577.5 L954.1,575.7 L955.6,574.0 L957.1,572.3 L958.7,570.6 L960.2,568.9 L961.7,567.2 L963.3,565.5 L964.9,563.9 L966.5,562.2 L968.1,560.6 L969.7,559.0 L971.3,557.3 L973.0,555.8 L974.6,554.2 L976.3,552.6 L978.0,551.1 L979.7,549.5 L981.4,548.0 L983.1,546.5 L984.8,545.0 L986.6,543.5 L988.4,542.0 L990.1,540.6 L991.9,539.1 L993.7,537.7 L995.5,536.3 L997.3,534.9 L999.1,533.5 L1001.0,532.1 L1002.8,530.8 L1004.7,529.4 L1006.5,528.1 L1008.4,526.8 L1010.3,525.5 L1012.2,524.2 L1014.1,522.9 L1016.0,521.6 L1017.9,520.4 L1019.8,519.1 L1021.7,517.9 L1023.7,516.6 L1025.6,515.4 L1027.6,514.2 L1029.5,513.0 L1031.5,511.9 L1033.5,510.7 L1035.4,509.5 L1037.4,508.4 L1039.4,507.3 L1041.4,506.1 L1043.4,505.0 L1045.4,503.9 L1047.4,502.8 L1049.4,501.7 L1051.4,500.7 L1053.4,499.6 L1055.5,498.6 L1057.5,497.5 L1059.5,496.5 L1061.6,495.5 L1063.6,494.5 L1065.7,493.5 L1067.7,492.5 L1069.8,491.5 L1071.8,490.6 L1073.9,489.6 L1076.0,488.7 L1078.1,487.8 L1080.1,486.9 L1082.2,486.0 L1084.3,485.1 L1086.4,484.2 L1088.5,483.3 L1090.6,482.5 L1092.7,481.6 L1094.8,480.8 L1097.0,480.0 L1099.1,479.2 L1101.2,478.4 L1103.3,477.6 L1105.5,476.8 L1107.6,476.1 L1109.7,475.3 L1111.9,474.6 L1114.0,473.9 L1116.2,473.2 L1118.3,472.5 L1120.5,471.8 L1122.6,471.2 L1124.8,470.5 L1127.0,469.9 L1129.1,469.2 L1131.3,468.6 L1133.5,468.0 L1135.7,467.4 L1137.9,466.9 L1140.1,466.3 L1142.2,465.8 L1144.4,465.2 L1146.6,464.7 L1148.8,464.2 L1151.0,463.7 L1153.3,463.2 L1155.5,462.8 L1157.7,462.3 L1159.9,461.9 L1162.1,461.5 L1164.3,461.0 L1166.6,460.7 L1168.8,460.3 L1171.0,459.9 L1173.2,459.5 L1175.5,459.2 L1177.7,458.9 L1180.0,458.6 L1182.2,458.3 L1184.4,458.0 L1186.7,457.7 L1188.9,457.5 L1191.2,457.2 L1193.4,457.0 L1195.7,456.8 L1198.0,456.6 L1200.2,456.4 L1202.5,456.3 L1204.7,456.1 L1207.0,456.0 L1209.3,455.9 L1211.6,455.8 L1213.8,455.7 L1216.1,455.6 L1218.4,455.6 L1220.7,455.5 L1222.9,455.5 L1225.2,455.5 L1227.5,455.5" stroke="#0000A8" stroke-width="11"/>
<path d="M597.8,479.7 L599.9,480.1 L602.1,480.5 L604.2,481.0 L606.3,481.4 L608.5,481.9 L610.6,482.3 L612.8,482.8 L614.9,483.3 L617.1,483.8 L619.2,484.3 L621.4,484.8 L623.5,485.4 L625.7,485.9 L627.8,486.5 L630.0,487.0 L632.1,487.6 L634.3,488.1 L636.5,488.7 L638.6,489.3 L640.8,489.9 L642.9,490.5 L645.1,491.2 L647.3,491.8 L649.4,492.4 L651.6,493.1 L653.7,493.8 L655.9,494.4 L658.1,495.1 L660.2,495.8 L662.4,496.5 L664.5,497.2 L666.7,497.9 L668.8,498.7 L671.0,499.4 L673.1,500.2 L675.3,500.9 L677.4,501.7 L679.5,502.5 L681.7,503.3 L683.8,504.1 L685.9,504.9 L688.1,505.7 L690.2,506.5 L692.3,507.3 L694.4,508.2 L696.6,509.1 L698.7,509.9 L700.8,510.8 L702.9,511.7 L705.0,512.6 L707.1,513.5 L709.2,514.4 L711.2,515.4 L713.3,516.3 L715.4,517.3 L717.5,518.2 L719.5,519.2 L721.6,520.2 L723.6,521.2 L725.7,522.2 L727.7,523.2 L729.8,524.2 L731.8,525.3 L733.8,526.3 L735.8,527.4 L737.8,528.4 L739.8,529.5 L741.8,530.6 L743.8,531.7 L745.8,532.8 L747.8,533.9 L749.8,535.0 L751.7,536.2 L753.7,537.3 L755.6,538.5 L757.5,539.7 L759.5,540.9 L761.4,542.1 L763.3,543.3 L765.2,544.5 L767.1,545.7 L769.0,546.9 L770.9,548.2 L772.7,549.5 L774.6,550.7 L776.4,552.0 L778.3,553.3 L780.1,554.6 L781.9,555.9 L783.7,557.2 L785.5,558.6 L787.3,559.9 L789.1,561.3 L790.8,562.7 L792.6,564.0 L794.3,565.4 L796.1,566.8 L797.8,568.3 L799.5,569.7 L801.2,571.1 L802.9,572.6 L804.5,574.0 L806.2,575.5 L807.8,577.0 L809.5,578.5 L811.1,580.0 L812.7,581.5 L814.3,583.0 L815.9,584.6 L817.4,586.1 L819.0,587.7 L820.5,589.3 L822.1,590.8 L823.6,592.4 L825.1,594.0 L826.6,595.7 L828.0,597.3 L829.5,598.9 L830.9,600.6 L832.4,602.3 L833.8,603.9 L835.2,605.6 L836.6,607.3 L837.9,609.0 L839.3,610.8 L840.6,612.5 L842.0,614.3 L843.3,616.0 L844.5,617.8 L845.8,619.6 L847.1,621.4 L848.3,623.2 L849.5,625.0 L850.8,626.8 L851.9,628.7 L853.1,630.5 L854.3,632.4 L855.4,634.2 L856.6,636.1 L857.7,638.0 L858.8,639.9 L859.9,641.8 L860.9,643.8 L862.0,645.7 L863.0,647.6 L864.1,649.6 L865.1,651.5 L866.1,653.5 L867.0,655.5 L868.0,657.5 L869.0,659.5 L869.9,661.5 L870.8,663.5 L871.7,665.5 L872.6,667.5 L873.5,669.5 L874.4,671.6 L875.2,673.6 L876.0,675.7 L876.9,677.7 L877.7,679.8 L878.5,681.9 L879.2,684.0 L880.0,686.0 L880.8,688.1 L881.5,690.2 L882.2,692.3 L882.9,694.5 L883.6,696.6 L884.3,698.7 L885.0,700.8 L885.7,702.9 L886.3,705.1 L886.9,707.2 L887.6,709.4 L888.2,711.5 L888.8,713.7 L889.3,715.8 L889.9,718.0 L890.5,720.2 L891.0,722.3 L891.5,724.5 L892.1,726.7 L892.6,728.9 L893.1,731.0 L893.5,733.2 L894.0,735.4 L894.5,737.6 L894.9,739.8 L895.4,742.0 L895.8,744.2 L896.2,746.4 L896.6,748.6 L897.0,750.8 L897.4,753.0 L897.8,755.2 L898.2,757.5 L898.5,759.7 L898.9,761.9 L899.2,764.1 L899.5,766.4 L899.8,768.6 L900.2,770.8 L900.5,773.1 L900.8,775.3 L901.0,777.5 L901.3,779.8 L901.6,782.0 L901.8,784.3 L902.1,786.5 L902.3,788.8 L902.6,791.0 L902.8,793.3 L903.0,795.5 L903.3,797.8 L903.5,800.0 L903.7,802.3 L903.9,804.6 L904.1,806.8 L904.2,809.1 L904.4,811.3 L904.6,813.6 L904.8,815.9 L904.9,818.1 L905.1,820.4 L905.2,822.7 L905.4,825.0 L905.5,827.2 L905.7,829.5 L905.8,831.8 L905.9,834.0 L906.1,836.3 L906.2,838.6 L906.3,840.9 L906.4,843.1 L906.5,845.4 L906.6,847.7 L906.7,850.0 L906.8,852.2 L906.9,854.5 L907.0,856.8 L907.1,859.1 L907.2,861.4 L907.3,863.6 L907.4,865.9 L907.5,868.2 L907.6,870.5 L907.7,872.7 L907.7,875.0 L907.8,877.3 L907.9,879.6 L908.0,881.8 L908.1,884.1 L908.1,886.4 L908.2,888.7 L908.3,890.9 L908.4,893.2 L908.4,895.5 L908.5,897.7 L908.6,900.0 L908.7,902.3 L908.8,904.5 L908.8,906.8 L908.9,909.1 L909.0,911.3 L909.1,913.6 L909.2,915.8 L909.3,918.1 L909.4,920.3 L909.4,922.6 L909.5,924.9 L909.6,927.1 L909.7,929.4 L909.8,931.6 L909.9,933.8 L910.1,936.1 L910.2,938.3 L910.3,940.6 L910.4,942.8 L910.5,945.0 L910.7,947.3 L910.8,949.5 L910.9,951.7 L911.1,954.0 L911.2,956.2 L911.4,958.4 L911.5,960.6 L911.7,962.8 L911.8,965.0 L912.0,967.2 L912.2,969.5 L912.4,971.7 L912.5,973.9 L912.7,976.1 L912.9,978.3 L913.1,980.4 L913.4,982.6 L913.6,984.8 L913.8,987.0 L914.0,984.5 L914.1,981.9 L914.2,979.3 L914.4,976.8 L914.5,974.2 L914.6,971.7 L914.7,969.1 L914.8,966.5 L914.9,964.0 L915.0,961.4 L915.1,958.8 L915.2,956.3 L915.3,953.7 L915.3,951.1 L915.4,948.6 L915.5,946.0 L915.5,943.4 L915.6,940.8 L915.6,938.2 L915.7,935.6 L915.7,933.1 L915.8,930.5 L915.8,927.9 L915.8,925.3 L915.9,922.7 L915.9,920.1 L915.9,917.5 L915.9,914.9 L916.0,912.3 L916.0,909.8 L916.0,907.2 L916.0,904.6 L916.1,902.0 L916.1,899.4 L916.1,896.8 L916.1,894.2 L916.2,891.6 L916.2,889.0 L916.2,886.4 L916.2,883.8 L916.3,881.2 L916.3,878.6 L916.4,876.0 L916.4,873.4 L916.4,870.8 L916.5,868.2 L916.5,865.6 L916.6,863.0 L916.6,860.4 L916.7,857.8 L916.8,855.2 L916.8,852.6 L916.9,850.0 L917.0,847.5 L917.1,844.9 L917.2,842.3 L917.3,839.7 L917.4,837.1 L917.5,834.5 L917.6,831.9 L917.8,829.3 L917.9,826.7 L918.0,824.2 L918.2,821.6 L918.3,819.0 L918.5,816.4 L918.7,813.8 L918.9,811.3 L919.1,808.7 L919.3,806.1 L919.5,803.6 L919.7,801.0 L920.0,798.4 L920.2,795.9 L920.5,793.3 L920.7,790.7 L921.0,788.2 L921.3,785.6 L921.6,783.1 L921.9,780.5 L922.3,778.0 L922.6,775.4 L923.0,772.9 L923.3,770.3 L923.7,767.8 L924.1,765.3 L924.5,762.7 L924.9,760.2 L925.4,757.7 L925.8,755.1 L926.3,752.6 L926.8,750.1 L927.3,747.6 L927.8,745.1 L928.3,742.6 L928.9,740.0 L929.5,737.5 L930.0,735.0 L930.6,732.6 L931.3,730.1 L931.9,727.6 L932.6,725.1 L933.2,722.6 L933.9,720.1 L934.6,717.7 L935.3,715.2 L936.1,712.8 L936.8,710.3 L937.6,707.9 L938.4,705.4 L939.2,703.0 L940.0,700.6 L940.9,698.1 L941.8,695.7 L942.6,693.3 L943.6,690.9 L944.5,688.5 L945.4,686.1 L946.4,683.8 L947.4,681.4 L948.3,679.0 L949.4,676.7 L950.4,674.4 L951.5,672.0 L952.5,669.7 L953.6,667.4 L954.7,665.1 L955.9,662.8 L957.0,660.5 L958.2,658.2 L959.4,656.0 L960.6,653.7 L961.8,651.5 L963.1,649.3 L964.3,647.0 L965.6,644.8 L966.9,642.6 L968.3,640.5 L969.6,638.3 L971.0,636.1 L972.4,634.0 L973.8,631.9 L975.2,629.8 L976.7,627.6 L978.1,625.6 L979.6,623.5 L981.1,621.4 L982.7,619.4 L984.2,617.3 L985.8,615.3 L987.4,613.3 L989.0,611.3 L990.6,609.3 L992.2,607.3 L993.9,605.4 L995.6,603.4 L997.2,601.5 L999.0,599.6 L1000.7,597.7 L1002.4,595.8 L1004.2,594.0 L1006.0,592.1 L1007.8,590.3 L1009.6,588.5 L1011.4,586.7 L1013.3,584.9 L1015.1,583.1 L1017.0,581.3 L1018.9,579.6 L1020.8,577.9 L1022.7,576.2 L1024.6,574.5 L1026.6,572.8 L1028.6,571.1 L1030.5,569.5 L1032.5,567.8 L1034.5,566.2 L1036.6,564.6 L1038.6,563.0 L1040.6,561.4 L1042.7,559.9 L1044.8,558.3 L1046.8,556.8 L1048.9,555.3 L1051.0,553.8 L1053.1,552.3 L1055.3,550.9 L1057.4,549.4 L1059.6,548.0 L1061.7,546.6 L1063.9,545.2 L1066.1,543.8 L1068.3,542.4 L1070.5,541.1 L1072.7,539.7 L1074.9,538.4 L1077.1,537.1 L1079.3,535.8 L1081.6,534.5 L1083.8,533.3 L1086.1,532.0 L1088.4,530.8 L1090.7,529.6 L1092.9,528.4 L1095.2,527.2 L1097.5,526.1 L1099.9,524.9 L1102.2,523.8 L1104.5,522.7 L1106.8,521.6 L1109.2,520.5 L1111.5,519.4 L1113.9,518.4 L1116.3,517.4 L1118.6,516.3 L1121.0,515.3 L1123.4,514.4 L1125.8,513.4 L1128.2,512.4 L1130.6,511.5 L1133.0,510.6 L1135.4,509.7 L1137.8,508.8 L1140.3,507.9 L1142.7,507.1 L1145.1,506.2 L1147.6,505.4 L1150.0,504.6 L1152.5,503.8 L1154.9,503.0 L1157.4,502.3 L1159.9,501.5 L1162.3,500.8 L1164.8,500.1 L1167.3,499.4 L1169.8,498.7 L1172.3,498.1 L1174.8,497.4 L1177.3,496.8 L1179.8,496.2 L1182.3,495.6 L1184.8,495.0 L1187.3,494.5 L1189.8,493.9 L1192.3,493.4 L1194.8,492.9 L1197.4,492.4 L1199.9,491.9 L1202.4,491.4 L1205.0,491.0 L1207.5,490.6 L1210.0,490.1 L1212.6,489.7 L1215.1,489.4 L1217.7,489.0 L1220.2,488.6 L1222.8,488.3 L1225.3,488.0 L1227.9,487.7 L1230.5,487.4 L1233.0,487.1 L1235.6,486.9 L1238.1,486.6 L1240.7,486.4 L1243.3,486.2 L1245.8,486.0 L1248.4,485.9 L1251.0,485.7 L1253.6,485.6 L1256.1,485.4 L1258.7,485.3 L1261.3,485.2 L1263.9,485.2 L1266.4,485.1 L1269.0,485.1 L1271.6,485.0 L1274.2,485.0 L1276.7,485.0 L1279.3,485.1 L1281.9,485.1 L1284.5,485.2 L1287.0,485.2 L1289.6,485.3 L1292.2,485.4 L1294.8,485.6 L1297.3,485.7 L1299.9,485.9 L1302.5,486.0 L1305.1,486.2 L1307.6,486.4 L1310.2,486.6 L1312.8,486.9 L1315.3,487.1 L1317.9,487.4 L1320.5,487.7 L1323.0,488.0 L1325.6,488.3 L1328.1,488.6 L1330.7,489.0" stroke="#00FFFF" stroke-width="13"/>
<path d="M651.0,491.0 L653.1,491.7 L655.2,492.4 L657.3,493.2 L659.4,493.9 L661.5,494.6 L663.6,495.2 L665.7,495.9 L667.8,496.6 L669.9,497.3 L672.0,498.0 L674.2,498.6 L676.3,499.3 L678.4,500.0 L680.5,500.6 L682.7,501.3 L684.8,501.9 L686.9,502.6 L689.1,503.3 L691.2,503.9 L693.4,504.6 L695.5,505.2 L697.6,505.9 L699.8,506.6 L701.9,507.2 L704.0,507.9 L706.2,508.6 L708.3,509.2 L710.4,509.9 L712.6,510.6 L714.7,511.3 L716.8,512.0 L719.0,512.7 L721.1,513.4 L723.2,514.1 L725.3,514.8 L727.4,515.5 L729.5,516.3 L731.6,517.0 L733.7,517.7 L735.8,518.5 L737.9,519.3 L740.0,520.0 L742.1,520.8 L744.1,521.6 L746.2,522.4 L748.3,523.3 L750.3,524.1 L752.3,524.9 L754.4,525.8 L756.4,526.7 L758.4,527.6 L760.5,528.5 L762.5,529.4 L764.5,530.3 L766.5,531.2 L768.4,532.2 L770.4,533.2 L772.4,534.2 L774.3,535.2 L776.3,536.2 L778.2,537.3 L780.1,538.3 L782.0,539.4 L783.9,540.5 L785.8,541.6 L787.7,542.8 L789.6,543.9 L791.4,545.1 L793.3,546.3 L795.1,547.5 L796.9,548.7 L798.8,550.0 L800.6,551.2 L802.4,552.5 L804.1,553.8 L805.9,555.1 L807.7,556.4 L809.4,557.8 L811.2,559.1 L812.9,560.5 L814.6,561.9 L816.3,563.3 L818.0,564.7 L819.7,566.1 L821.4,567.6 L823.1,569.0 L824.7,570.5 L826.4,572.0 L828.0,573.5 L829.6,575.0 L831.2,576.5 L832.8,578.1 L834.4,579.6 L836.0,581.2 L837.6,582.7 L839.1,584.3 L840.7,585.9 L842.2,587.5 L843.7,589.2 L845.2,590.8 L846.8,592.5 L848.2,594.1 L849.7,595.8 L851.2,597.5 L852.7,599.1 L854.1,600.8 L855.6,602.5 L857.0,604.3 L858.4,606.0 L859.8,607.7 L861.2,609.5 L862.6,611.2 L864.0,613.0 L865.3,614.8 L866.7,616.5 L868.0,618.3 L869.3,620.1 L870.7,621.9 L872.0,623.7 L873.3,625.6 L874.6,627.4 L875.8,629.2 L877.1,631.1 L878.4,632.9 L879.6,634.8 L880.8,636.6 L882.1,638.5 L883.3,640.4 L884.5,642.2 L885.6,644.1 L886.8,646.0 L888.0,647.9 L889.1,649.8 L890.3,651.7 L891.4,653.6 L892.5,655.5 L893.6,657.4 L894.7,659.4 L895.8,661.3 L896.9,663.3 L897.9,665.2 L899.0,667.2 L900.0,669.1 L901.0,671.1 L902.0,673.0 L903.0,675.0 L904.0,677.0 L904.9,679.0 L905.8,681.0 L906.8,683.0 L907.7,685.0 L908.6,687.0 L909.5,689.0 L910.3,691.0 L911.2,693.1 L912.0,695.1 L912.8,697.2 L913.6,699.2 L914.4,701.3 L915.2,703.3 L916.0,705.4 L916.7,707.5 L917.4,709.5 L918.1,711.6 L918.8,713.7 L919.5,715.8 L920.2,717.9 L920.8,720.0 L921.5,722.1 L922.1,724.2 L922.7,726.4 L923.3,728.5 L923.9,730.6 L924.5,732.7 L925.0,734.9 L925.6,737.0 L926.1,739.1 L926.6,741.3 L927.2,743.4 L927.7,745.6 L928.2,747.7 L928.6,749.9 L929.1,752.0 L929.6,754.2 L930.0,756.4 L930.5,758.5 L930.9,760.7 L931.4,762.8 L931.8,765.0 L932.2,767.2 L932.6,769.4 L933.0,771.5 L933.4,773.7 L933.7,775.9 L934.1,778.1 L934.5,780.3 L934.8,782.4 L935.2,784.6 L935.5,786.8 L935.8,789.0 L936.2,791.2 L936.5,793.4 L936.8,795.6 L937.1,797.8 L937.4,800.0 L937.6,802.2 L937.9,804.4 L938.2,806.6 L938.5,808.8 L938.7,811.0 L939.0,813.2 L939.2,815.4 L939.5,817.6 L939.7,819.8 L939.9,822.0 L940.1,824.2 L940.3,826.5 L940.6,828.7 L940.8,830.9 L941.0,833.1 L941.2,835.3 L941.3,837.5 L941.5,839.8 L941.7,842.0 L941.9,844.2 L942.0,846.4 L942.2,848.7 L942.4,850.9 L942.5,853.1 L942.7,855.3 L942.8,857.6 L943.0,859.8 L943.1,862.0 L943.2,864.2 L943.4,866.5 L943.5,868.7 L943.6,870.9 L943.7,873.2 L943.9,875.4 L944.0,877.6 L944.1,879.9 L944.2,882.1 L944.3,884.3 L944.4,886.6 L944.5,888.8 L944.6,891.0 L944.7,893.3 L944.8,895.5 L944.9,897.7 L945.0,900.0 L945.1,902.2 L945.2,904.4 L945.3,906.7 L945.3,908.9 L945.4,911.2 L945.5,913.4 L945.6,915.6 L945.7,917.9 L945.8,920.1 L945.8,922.3 L945.9,924.6 L946.0,926.8 L946.1,929.0 L946.2,931.3 L946.2,933.5 L946.3,935.7 L946.4,938.0 L946.5,940.2 L946.6,942.4 L946.6,944.7 L946.7,946.9 L946.8,949.1 L946.9,951.4 L947.0,953.6 L947.0,955.8 L947.1,958.0 L947.2,960.3 L947.3,962.5 L947.4,964.7 L947.5,966.9 L947.6,969.2 L947.7,971.4 L947.8,973.6 L947.9,975.8 L948.0,978.0 L948.1,980.3 L948.2,982.5 L948.3,984.7 L948.4,986.9 L948.5,989.1 L948.6,991.3 L948.8,993.6 L948.9,995.8 L949.0,998.0 L949.1,1000.2 L949.3,1002.4 L949.4,1004.6 L949.6,1006.8 L949.7,1009.0 L949.9,1006.5 L950.0,1004.0 L950.2,1001.6 L950.3,999.1 L950.4,996.6 L950.6,994.1 L950.7,991.6 L950.8,989.1 L950.9,986.6 L951.0,984.1 L951.1,981.6 L951.1,979.1 L951.2,976.6 L951.3,974.1 L951.4,971.6 L951.4,969.1 L951.5,966.6 L951.5,964.1 L951.6,961.6 L951.6,959.1 L951.7,956.6 L951.7,954.0 L951.7,951.5 L951.8,949.0 L951.8,946.5 L951.8,944.0 L951.8,941.5 L951.9,938.9 L951.9,936.4 L951.9,933.9 L951.9,931.4 L951.9,928.9 L951.9,926.3 L952.0,923.8 L952.0,921.3 L952.0,918.8 L952.0,916.2 L952.0,913.7 L952.0,911.2 L952.0,908.7 L952.1,906.1 L952.1,903.6 L952.1,901.1 L952.1,898.6 L952.2,896.0 L952.2,893.5 L952.2,891.0 L952.3,888.5 L952.3,885.9 L952.3,883.4 L952.4,880.9 L952.4,878.4 L952.5,875.8 L952.5,873.3 L952.6,870.8 L952.7,868.3 L952.7,865.7 L952.8,863.2 L952.9,860.7 L953.0,858.2 L953.1,855.7 L953.2,853.1 L953.3,850.6 L953.4,848.1 L953.6,845.6 L953.7,843.1 L953.8,840.6 L954.0,838.1 L954.2,835.5 L954.3,833.0 L954.5,830.5 L954.7,828.0 L954.9,825.5 L955.1,823.0 L955.3,820.5 L955.5,818.0 L955.8,815.5 L956.0,813.0 L956.3,810.5 L956.5,808.0 L956.8,805.5 L957.1,803.0 L957.4,800.6 L957.7,798.1 L958.1,795.6 L958.4,793.1 L958.8,790.6 L959.1,788.2 L959.5,785.7 L959.9,783.2 L960.3,780.7 L960.7,778.3 L961.2,775.8 L961.6,773.3 L962.1,770.9 L962.6,768.4 L963.1,766.0 L963.6,763.5 L964.1,761.1 L964.7,758.6 L965.2,756.2 L965.8,753.7 L966.4,751.3 L967.0,748.9 L967.7,746.4 L968.3,744.0 L969.0,741.6 L969.6,739.2 L970.3,736.7 L971.0,734.3 L971.8,731.9 L972.5,729.5 L973.2,727.1 L974.0,724.8 L974.8,722.4 L975.6,720.0 L976.4,717.6 L977.3,715.3 L978.1,712.9 L979.0,710.5 L979.9,708.2 L980.8,705.8 L981.7,703.5 L982.6,701.2 L983.6,698.9 L984.5,696.6 L985.5,694.2 L986.5,691.9 L987.5,689.7 L988.5,687.4 L989.6,685.1 L990.6,682.8 L991.7,680.6 L992.8,678.3 L993.9,676.1 L995.0,673.8 L996.2,671.6 L997.3,669.4 L998.5,667.2 L999.7,665.0 L1000.9,662.8 L1002.1,660.6 L1003.4,658.5 L1004.6,656.3 L1005.9,654.2 L1007.2,652.0 L1008.5,649.9 L1009.8,647.8 L1011.1,645.7 L1012.5,643.6 L1013.8,641.5 L1015.2,639.4 L1016.6,637.4 L1018.0,635.3 L1019.5,633.3 L1020.9,631.3 L1022.4,629.3 L1023.9,627.3 L1025.3,625.3 L1026.9,623.3 L1028.4,621.3 L1029.9,619.4 L1031.5,617.4 L1033.1,615.5 L1034.7,613.6 L1036.3,611.7 L1037.9,609.8 L1039.5,608.0 L1041.2,606.1 L1042.9,604.3 L1044.5,602.5 L1046.2,600.6 L1048.0,598.9 L1049.7,597.1 L1051.4,595.3 L1053.2,593.6 L1055.0,591.8 L1056.8,590.1 L1058.6,588.4 L1060.4,586.7 L1062.3,585.0 L1064.1,583.3 L1066.0,581.7 L1067.9,580.1 L1069.8,578.4 L1071.7,576.8 L1073.6,575.2 L1075.5,573.7 L1077.5,572.1 L1079.4,570.6 L1081.4,569.0 L1083.4,567.5 L1085.4,566.0 L1087.4,564.5 L1089.4,563.1 L1091.5,561.6 L1093.5,560.2 L1095.6,558.7 L1097.6,557.3 L1099.7,555.9 L1101.8,554.6 L1103.9,553.2 L1106.0,551.9 L1108.2,550.5 L1110.3,549.2 L1112.5,547.9 L1114.6,546.6 L1116.8,545.4 L1119.0,544.1 L1121.1,542.9 L1123.3,541.7 L1125.6,540.5 L1127.8,539.3 L1130.0,538.1 L1132.2,537.0 L1134.5,535.8 L1136.7,534.7 L1139.0,533.6 L1141.3,532.5 L1143.6,531.4 L1145.9,530.4 L1148.2,529.3 L1150.5,528.3 L1152.8,527.3 L1155.1,526.3 L1157.4,525.3 L1159.8,524.4 L1162.1,523.4 L1164.4,522.5 L1166.8,521.6 L1169.2,520.7 L1171.5,519.8 L1173.9,519.0 L1176.3,518.1 L1178.7,517.3 L1181.1,516.5 L1183.5,515.7 L1185.9,514.9 L1188.3,514.2 L1190.7,513.4 L1193.2,512.7 L1195.6,512.0 L1198.0,511.3 L1200.5,510.7 L1202.9,510.0 L1205.3,509.4 L1207.8,508.8 L1210.3,508.2 L1212.7,507.6 L1215.2,507.0 L1217.6,506.5 L1220.1,505.9 L1222.6,505.4 L1225.1,504.9 L1227.5,504.5 L1230.0,504.0 L1232.5,503.6 L1235.0,503.1 L1237.5,502.7 L1240.0,502.3 L1242.5,502.0 L1245.0,501.6 L1247.5,501.3 L1250.0,501.0 L1252.5,500.7 L1255.0,500.4 L1257.5,500.1 L1260.0,499.9 L1262.5,499.7 L1265.0,499.5 L1267.5,499.3 L1270.1,499.1 L1272.6,499.0 L1275.1,498.8 L1277.6,498.7 L1280.1,498.6 L1282.6,498.6 L1285.1,498.5 L1287.6,498.5 L1290.1,498.4 L1292.7,498.4 L1295.2,498.5 L1297.7,498.5 L1300.2,498.6 L1302.7,498.6 L1305.2,498.7 L1307.7,498.8 L1310.2,499.0 L1312.7,499.1 L1315.2,499.3 L1317.7,499.5 L1320.2,499.7 L1322.6,499.9 L1325.1,500.2 L1327.6,500.5 L1330.1,500.7 L1332.6,501.0 L1335.0,501.4 L1337.5,501.7" stroke="#FF00EE" stroke-width="10.5"/>
<path d="M239.6,212.9 L242.0,213.0 L244.3,213.1 L246.7,213.3 L249.0,213.5 L251.3,213.7 L253.6,213.9 L255.9,214.2 L258.2,214.5 L260.5,214.8 L262.7,215.1 L265.0,215.5 L267.2,215.9 L269.4,216.3 L271.6,216.7 L273.8,217.2 L276.0,217.6 L278.1,218.1 L280.3,218.6 L282.4,219.2 L284.6,219.7 L286.7,220.3 L288.9,220.8 L291.0,221.4 L293.1,222.0 L295.2,222.6 L297.3,223.3 L299.4,223.9 L301.5,224.6 L303.6,225.2 L305.7,225.9 L307.8,226.6 L309.9,227.3 L312.0,228.0 L314.1,228.7 L316.1,229.5 L318.2,230.2 L320.3,230.9 L322.4,231.7 L324.5,232.4 L326.6,233.2 L328.7,233.9 L330.8,234.7 L332.9,235.4 L335.0,236.2 L337.1,236.9 L339.2,237.7 L341.3,238.5 L343.4,239.2 L345.6,240.0 L347.7,240.8 L349.8,241.5 L352.0,242.3 L354.1,243.0 L356.3,243.8 L358.5,244.5 L360.6,245.3 L362.8,246.1 L365.0,246.8 L367.1,247.6 L369.3,248.4 L371.5,249.1 L373.6,249.9 L375.8,250.7 L378.0,251.5 L380.2,252.3 L382.3,253.1 L384.5,253.9 L386.7,254.7 L388.8,255.5 L391.0,256.3 L393.1,257.2 L395.3,258.0 L397.4,258.9 L399.5,259.7 L401.7,260.6 L403.8,261.5 L405.9,262.4 L408.0,263.3 L410.1,264.2 L412.2,265.1 L414.3,266.1 L416.4,267.0 L418.4,268.0 L420.5,269.0 L422.5,270.0 L424.5,271.0 L426.6,272.0 L428.6,273.0 L430.6,274.1 L432.5,275.2 L434.5,276.3 L436.4,277.4 L438.4,278.5 L440.3,279.7 L442.2,280.8 L444.1,282.0 L445.9,283.2 L447.8,284.4 L449.6,285.7 L451.4,287.0 L453.2,288.2 L455.0,289.6 L456.7,290.9 L458.4,292.3 L460.2,293.6 L461.8,295.0 L463.5,296.5 L465.2,297.9 L466.8,299.4 L468.4,300.9 L470.0,302.4 L471.5,304.0 L473.1,305.5 L474.6,307.1 L476.1,308.7 L477.6,310.3 L479.0,312.0 L480.5,313.6 L481.9,315.3 L483.3,317.0 L484.7,318.7 L486.1,320.5 L487.4,322.2 L488.7,324.0 L490.0,325.8 L491.3,327.6 L492.6,329.4 L493.9,331.2 L495.1,333.1 L496.4,334.9 L497.6,336.8 L498.8,338.7 L500.0,340.6 L501.1,342.6 L502.3,344.5 L503.4,346.4 L504.5,348.4 L505.6,350.4 L506.7,352.4 L507.8,354.4 L508.8,356.4 L509.9,358.4 L510.9,360.4 L511.9,362.5 L512.9,364.5 L513.9,366.6 L514.9,368.6 L515.9,370.7 L516.8,372.8 L517.7,374.9 L518.7,377.0 L519.6,379.1 L520.5,381.2 L521.4,383.4 L522.2,385.5 L523.1,387.6 L524.0,389.8 L524.8,391.9 L525.6,394.0 L526.5,396.2 L527.3,398.4 L528.1,400.5 L528.9,402.7 L529.6,404.9 L530.4,407.0 L531.2,409.2 L531.9,411.4 L532.7,413.5 L533.4,415.7 L534.1,417.9 L534.8,420.1 L535.5,422.3 L536.2,424.4 L536.9,426.6 L537.6,428.8 L538.3,431.0 L539.0,433.1 L539.6,435.3 L540.3,437.5 L540.9,439.7 L541.5,441.9 L542.2,444.0 L542.8,446.2 L543.4,448.4 L544.0,450.6 L544.6,452.8 L545.2,454.9 L545.8,457.1 L546.3,459.3 L546.9,461.5 L547.5,463.7 L548.0,465.8 L548.5,468.0 L549.1,470.2 L549.6,472.4 L550.1,474.6 L550.6,476.8 L551.1,479.0 L551.6,481.1 L552.1,483.3 L552.6,485.5 L553.0,487.7 L553.5,489.9 L553.9,492.1 L554.4,494.3 L554.8,496.5 L555.2,498.7 L555.6,500.9 L556.1,503.1 L556.5,505.3 L556.9,507.4 L557.2,509.6 L557.6,511.8 L558.0,514.0 L558.4,516.2 L558.7,518.5 L559.1,520.7 L559.4,522.9 L559.7,525.1 L560.1,527.3 L560.4,529.5 L560.7,531.7 L561.0,533.9 L561.3,536.1 L561.6,538.3 L561.8,540.5 L562.1,542.8 L562.4,545.0 L562.6,547.2 L562.9,549.4 L563.1,551.7 L563.3,553.9 L563.5,556.1 L563.8,558.3 L564.0,560.6 L564.2,562.8 L564.4,565.0 L564.5,567.3 L564.7,569.5 L564.9,571.7 L565.0,574.0 L565.2,576.2 L565.3,578.5 L565.5,580.7 L565.6,583.0 L565.7,585.2 L565.9,587.5 L566.0,589.7 L566.1,592.0 L566.1,594.2 L566.2,596.5 L566.3,598.8 L566.4,601.0 L566.4,603.3 L566.5,605.6 L566.5,607.8 L566.6,610.1 L566.6,612.4 L566.7,614.6 L566.7,616.9 L566.7,619.2 L566.7,621.5 L566.7,623.8 L566.8,626.0 L566.8,628.3 L566.8,630.6 L566.8,632.9 L566.8,635.1 L566.8,637.4 L566.8,639.7 L566.9,642.0 L566.9,644.3 L566.9,646.5 L566.9,648.8 L566.9,651.1 L567.0,653.3 L567.0,655.6 L567.0,657.9 L567.1,660.1 L567.1,662.4 L567.2,664.7 L567.2,666.9 L567.3,669.2 L567.4,671.4 L567.4,673.7 L567.5,675.9 L567.6,678.2 L567.7,680.4 L567.9,682.6 L568.0,684.9 L568.1,687.1 L568.3,689.3 L568.5,691.5 L568.6,693.7 L568.8,696.0 L569.0,698.2 L569.5,700.2 L570.4,702.1 L572.3,703.5 L573.6,701.8 L574.7,699.9 L575.5,697.9 L576.1,695.9 L576.6,693.7 L576.8,691.5 L577.0,689.3 L577.0,687.0 L577.0,684.6 L576.9,682.3 L576.8,679.9 L576.7,677.5 L576.6,675.2 L576.5,672.8 L576.4,670.5 L576.3,668.1 L576.2,665.8 L576.1,663.4 L576.0,661.1 L576.0,658.8 L575.9,656.4 L575.8,654.1 L575.7,651.8 L575.7,649.5 L575.6,647.2 L575.6,644.8 L575.5,642.5 L575.5,640.2 L575.4,637.9 L575.4,635.6 L575.4,633.3 L575.3,631.0 L575.3,628.7 L575.3,626.4 L575.3,624.1 L575.3,621.8 L575.3,619.5 L575.3,617.2 L575.3,614.9 L575.4,612.6 L575.4,610.3 L575.4,608.0 L575.5,605.7 L575.5,603.4 L575.6,601.1 L575.6,598.8 L575.7,596.6 L575.8,594.3 L575.9,592.0 L576.0,589.7 L576.1,587.4 L576.2,585.1 L576.3,582.8 L576.4,580.5 L576.6,578.2 L576.7,575.9 L576.9,573.7 L577.0,571.4 L577.2,569.1 L577.4,566.8 L577.5,564.5 L577.7,562.2 L577.9,559.9 L578.1,557.6 L578.3,555.4 L578.6,553.1 L578.8,550.8 L579.0,548.5 L579.2,546.2 L579.5,543.9 L579.7,541.7 L580.0,539.4 L580.3,537.1 L580.6,534.8 L580.8,532.5 L581.1,530.2 L581.4,528.0 L581.7,525.7 L582.1,523.4 L582.4,521.1 L582.7,518.8 L583.1,516.6 L583.4,514.3 L583.8,512.0 L584.1,509.7 L584.5,507.5 L584.9,505.2 L585.2,502.9 L585.6,500.6 L586.0,498.4 L586.4,496.1 L586.9,493.8 L587.3,491.5 L587.7,489.3 L588.2,487.0 L588.6,484.7 L589.1,482.5 L589.5,480.2 L590.0,477.9 L590.5,475.7 L591.0,473.4 L591.5,471.1 L592.0,468.9 L592.5,466.6 L593.0,464.4 L593.5,462.1 L594.0,459.8 L594.6,457.6 L595.1,455.3 L595.7,453.1 L596.2,450.8 L596.8,448.6 L597.4,446.3 L598.0,444.1 L598.6,441.8 L599.2,439.6 L599.9,437.3 L600.5,435.1 L601.2,432.9 L601.8,430.7 L602.5,428.4 L603.2,426.2 L603.9,424.0 L604.6,421.8 L605.4,419.6 L606.1,417.4 L606.9,415.3 L607.7,413.1 L608.5,410.9 L609.3,408.8 L610.1,406.6 L610.9,404.5 L611.8,402.4 L612.7,400.2 L613.6,398.1 L614.5,396.0 L615.5,393.9 L616.4,391.9 L617.4,389.8 L618.4,387.7 L619.5,385.7 L620.5,383.7 L621.6,381.7 L622.7,379.7 L623.8,377.7 L624.9,375.7 L626.1,373.7 L627.3,371.8 L628.5,369.8 L629.7,367.9 L631.0,366.0 L632.3,364.1 L633.6,362.3 L634.9,360.4 L636.3,358.6 L637.6,356.7 L639.0,354.9 L640.5,353.1 L641.9,351.3 L643.4,349.6 L644.9,347.8 L646.4,346.1 L647.9,344.4 L649.4,342.6 L651.0,341.0 L652.6,339.3 L654.2,337.6 L655.8,336.0 L657.4,334.3 L659.1,332.7 L660.8,331.1 L662.5,329.5 L664.2,328.0 L665.9,326.4 L667.6,324.9 L669.4,323.3 L671.1,321.8 L672.9,320.3 L674.7,318.8 L676.5,317.4 L678.3,315.9 L680.1,314.5 L682.0,313.1 L683.8,311.7 L685.7,310.3 L687.5,308.9 L689.4,307.5 L691.3,306.2 L693.2,304.9 L695.1,303.5 L697.0,302.2 L698.9,300.9 L700.8,299.7 L702.8,298.4 L704.7,297.2 L706.7,295.9 L708.6,294.7 L710.6,293.5 L712.6,292.3 L714.6,291.1 L716.6,290.0 L718.6,288.8 L720.6,287.7 L722.6,286.6 L724.6,285.5 L726.6,284.4 L728.7,283.3 L730.7,282.2 L732.8,281.2 L734.8,280.1 L736.9,279.1 L739.0,278.0 L741.0,277.0 L743.1,276.0 L745.2,275.1 L747.3,274.1 L749.4,273.1 L751.5,272.2 L753.6,271.2 L755.7,270.3 L757.8,269.4 L760.0,268.5 L762.1,267.6 L764.2,266.7 L766.4,265.8 L768.5,265.0 L770.6,264.1 L772.8,263.3 L775.0,262.4 L777.1,261.6 L779.3,260.8 L781.4,260.0 L783.6,259.2 L785.8,258.4 L788.0,257.7 L790.2,256.9 L792.3,256.2 L794.5,255.4 L796.7,254.7 L798.9,254.0 L801.1,253.2 L803.3,252.5 L805.5,251.8 L807.7,251.2 L809.9,250.5 L812.1,249.8 L814.4,249.1 L816.6,248.5 L818.8,247.8 L821.0,247.2 L823.2,246.6 L825.4,245.9 L827.7,245.3 L829.9,244.7 L832.1,244.1 L834.3,243.5 L836.6,242.9 L838.8,242.4 L841.0,241.8 L843.3,241.2 L845.5,240.7 L847.7,240.1 L850.0,239.6 L852.2,239.0 L854.4,238.5 L856.6,238.0 L858.9,237.5 L861.1,236.9 L863.4,236.4 L865.6,236.0 L867.8,235.5 L870.1,235.0 L872.3,234.5 L874.6,234.1 L876.8,233.7 L879.1,233.2 L881.3,232.8 L883.6,232.4 L885.8,232.0 L888.1,231.6 L890.4,231.2 L892.6,230.9 L894.9,230.5 L897.2,230.2 L899.5,229.9 L901.7,229.6 L904.0,229.3 L906.3,229.0 L908.6,228.7 L910.9,228.4 L913.2,228.2 L915.5,228.0 L917.8,227.8 L920.1,227.6 L922.5,227.4 L924.8,227.2 L927.1,227.1 L929.5,226.9 L931.8,226.8" stroke="#FFDD00" stroke-width="11"/>
</g>
<g filter="url(#bt)">
<g stroke="#000" stroke-width="3.6">
<line x1="1268.0" y1="1083" x2="1268.0" y2="1062"/>
<line x1="1096.0" y1="1083" x2="1096.0" y2="1062"/>
<line x1="924.0" y1="1083" x2="924.0" y2="1062"/>
<line x1="752.0" y1="1083" x2="752.0" y2="1062"/>
<line x1="580.0" y1="1083" x2="580.0" y2="1062"/>
<line x1="408.0" y1="1083" x2="408.0" y2="1062"/>
<line x1="236.0" y1="1083" x2="236.0" y2="1062"/>
<line x1="1354.0" y1="1083" x2="1354.0" y2="1072"/>
<line x1="1182.0" y1="1083" x2="1182.0" y2="1072"/>
<line x1="1010.0" y1="1083" x2="1010.0" y2="1072"/>
<line x1="838.0" y1="1083" x2="838.0" y2="1072"/>
<line x1="666.0" y1="1083" x2="666.0" y2="1072"/>
<line x1="494.0" y1="1083" x2="494.0" y2="1072"/>
<line x1="322.0" y1="1083" x2="322.0" y2="1072"/>
<line x1="151" y1="217.2" x2="171" y2="217.2"/>
<line x1="151" y1="390.3" x2="171" y2="390.3"/>
<line x1="151" y1="563.5" x2="171" y2="563.5"/>
<line x1="151" y1="736.6" x2="171" y2="736.6"/>
<line x1="151" y1="909.8" x2="171" y2="909.8"/>
<line x1="151" y1="130.6" x2="161" y2="130.6"/>
<line x1="151" y1="303.7" x2="161" y2="303.7"/>
<line x1="151" y1="476.9" x2="161" y2="476.9"/>
<line x1="151" y1="650.0" x2="161" y2="650.0"/>
<line x1="151" y1="823.2" x2="161" y2="823.2"/>
<line x1="151" y1="996.3" x2="161" y2="996.3"/>
</g>
<rect x="151" y="44" width="1289.5" height="1039" fill="none" stroke="#000" stroke-width="4"/>
<g font-size="47.5">
<text transform="translate(236.0,1137.5) scale(0.96,1)" text-anchor="middle"><tspan fill="#5a5a5a">−</tspan>0.7</text>
<text transform="translate(408.0,1137.5) scale(0.96,1)" text-anchor="middle"><tspan fill="#5a5a5a">−</tspan>0.6</text>
<text transform="translate(580.0,1137.5) scale(0.96,1)" text-anchor="middle"><tspan fill="#5a5a5a">−</tspan>0.5</text>
<text transform="translate(752.0,1137.5) scale(0.96,1)" text-anchor="middle"><tspan fill="#5a5a5a">−</tspan>0.4</text>
<text transform="translate(924.0,1137.5) scale(0.96,1)" text-anchor="middle"><tspan fill="#5a5a5a">−</tspan>0.3</text>
<text transform="translate(1096.0,1137.5) scale(0.96,1)" text-anchor="middle"><tspan fill="#5a5a5a">−</tspan>0.2</text>
<text transform="translate(1268.0,1137.5) scale(0.96,1)" text-anchor="middle"><tspan fill="#5a5a5a">−</tspan>0.1</text>
<text transform="translate(1440.0,1137.5) scale(0.96,1)" text-anchor="middle">0.0</text>
<text transform="translate(129,56.6) scale(0.96,1)" text-anchor="end"><tspan fill="#5a5a5a">−</tspan>3</text>
<text transform="translate(129,229.8) scale(0.96,1)" text-anchor="end"><tspan fill="#5a5a5a">−</tspan>4</text>
<text transform="translate(129,402.9) scale(0.96,1)" text-anchor="end"><tspan fill="#5a5a5a">−</tspan>5</text>
<text transform="translate(129,576.1) scale(0.96,1)" text-anchor="end"><tspan fill="#5a5a5a">−</tspan>6</text>
<text transform="translate(129,749.2) scale(0.96,1)" text-anchor="end"><tspan fill="#5a5a5a">−</tspan>7</text>
<text transform="translate(129,922.4) scale(0.96,1)" text-anchor="end"><tspan fill="#5a5a5a">−</tspan>8</text>
<text transform="translate(129,1095.5) scale(0.96,1)" text-anchor="end"><tspan fill="#5a5a5a">−</tspan>9</text>
</g>
<g font-size="36">
<line x1="1115" y1="761.8" x2="1196" y2="761.8" stroke="#F2CC00" stroke-width="5.5" stroke-linecap="round"/>
<text x="1204" y="774.3">Substrate</text>
<line x1="1115" y1="806.2" x2="1196" y2="806.2" stroke="#000000" stroke-width="5.5" stroke-linecap="round"/>
<text x="1204" y="818.7">C276-0%SiC</text>
<line x1="1115" y1="850.6" x2="1196" y2="850.6" stroke="#FF0000" stroke-width="5.5" stroke-linecap="round"/>
<text x="1204" y="863.1">C276-3%SiC</text>
<line x1="1115" y1="895.0" x2="1196" y2="895.0" stroke="#00EE00" stroke-width="5.5" stroke-linecap="round"/>
<text x="1204" y="907.5">C276-5%SiC</text>
<line x1="1115" y1="939.4" x2="1196" y2="939.4" stroke="#0000EE" stroke-width="5.5" stroke-linecap="round"/>
<text x="1204" y="951.9">C276-7%SiC</text>
<line x1="1115" y1="983.8" x2="1196" y2="983.8" stroke="#00FFFF" stroke-width="5.5" stroke-linecap="round"/>
<text x="1204" y="996.3">C276-9%SiC</text>
<line x1="1115" y1="1028.2" x2="1196" y2="1028.2" stroke="#FF80FF" stroke-width="5.5" stroke-linecap="round"/>
<text x="1204" y="1040.7">C276-11%SiC</text>
</g>
<text x="795" y="1223" font-size="54" text-anchor="middle">Potential/V</text>
<text transform="translate(58.5,562) rotate(-90)" font-size="54" text-anchor="middle">Log (Current/A)</text>
</g>
</svg>
</body></html>
